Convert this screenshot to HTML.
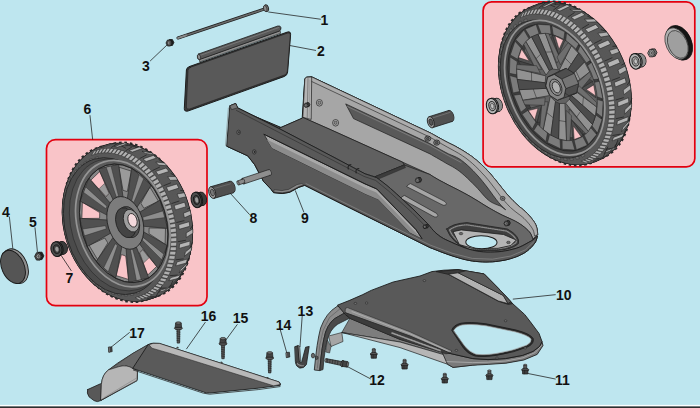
<!DOCTYPE html>
<html><head><meta charset="utf-8"><title>Parts diagram</title>
<style>
html,body{margin:0;padding:0;background:#bee6ef;}
body{width:700px;height:408px;overflow:hidden;}
svg{display:block;}
svg text{font-family:"Liberation Sans",sans-serif;font-weight:bold;font-size:14px;fill:#111;}
</style></head><body>
<svg width="700" height="408" viewBox="0 0 700 408">
<rect x="0" y="0" width="700" height="408" fill="#bee6ef"/>
<rect x="483.1" y="1.9" width="211.69999999999993" height="165.0" rx="8.5" ry="8.5" fill="#f9c4c8" stroke="#e3000f" stroke-width="1.7"/>
<rect x="46.5" y="139.6" width="160.5" height="166.1" rx="9" ry="9" fill="#f9c4c8" stroke="#e3000f" stroke-width="1.7"/>
<ellipse cx="559.4" cy="85.8" rx="54.0" ry="83.3" transform="rotate(-23 559.4 85.8)" fill="none" stroke="#2b2b2b" stroke-width="2.4" stroke-dasharray="2.6 2.6"/>
<ellipse cx="571.0" cy="80.9" rx="53.8" ry="83.0" transform="rotate(-23 571.0 80.9)" fill="none" stroke="#2b2b2b" stroke-width="2.4" stroke-dasharray="2.6 2.8"/>
<ellipse cx="578.7" cy="77.6" rx="48.2" ry="74.6" transform="rotate(-23 578.7 77.6)" fill="#2b2b2b" stroke="none" stroke-width="0"/>
<ellipse cx="577.2" cy="78.3" rx="49.7" ry="76.8" transform="rotate(-23 577.2 78.3)" fill="#2b2b2b" stroke="none" stroke-width="0"/>
<ellipse cx="575.6" cy="78.9" rx="50.9" ry="78.7" transform="rotate(-23 575.6 78.9)" fill="#2b2b2b" stroke="none" stroke-width="0"/>
<ellipse cx="574.1" cy="79.6" rx="51.9" ry="80.3" transform="rotate(-23 574.1 79.6)" fill="#2b2b2b" stroke="none" stroke-width="0"/>
<ellipse cx="572.6" cy="80.2" rx="52.8" ry="81.6" transform="rotate(-23 572.6 80.2)" fill="#2b2b2b" stroke="none" stroke-width="0"/>
<ellipse cx="571.0" cy="80.9" rx="53.4" ry="82.7" transform="rotate(-23 571.0 80.9)" fill="#2b2b2b" stroke="none" stroke-width="0"/>
<ellipse cx="569.5" cy="81.5" rx="53.9" ry="83.4" transform="rotate(-23 569.5 81.5)" fill="#2b2b2b" stroke="none" stroke-width="0"/>
<ellipse cx="568.0" cy="82.2" rx="54.3" ry="83.9" transform="rotate(-23 568.0 82.2)" fill="#2b2b2b" stroke="none" stroke-width="0"/>
<ellipse cx="566.4" cy="82.8" rx="54.4" ry="84.2" transform="rotate(-23 566.4 82.8)" fill="#2b2b2b" stroke="none" stroke-width="0"/>
<ellipse cx="564.9" cy="83.5" rx="54.5" ry="84.3" transform="rotate(-23 564.9 83.5)" fill="#2b2b2b" stroke="none" stroke-width="0"/>
<ellipse cx="563.4" cy="84.2" rx="54.4" ry="84.2" transform="rotate(-23 563.4 84.2)" fill="#2b2b2b" stroke="none" stroke-width="0"/>
<ellipse cx="561.8" cy="84.8" rx="54.3" ry="83.9" transform="rotate(-23 561.8 84.8)" fill="#2b2b2b" stroke="none" stroke-width="0"/>
<ellipse cx="560.3" cy="85.5" rx="53.9" ry="83.4" transform="rotate(-23 560.3 85.5)" fill="#2b2b2b" stroke="none" stroke-width="0"/>
<ellipse cx="558.8" cy="86.1" rx="53.4" ry="82.7" transform="rotate(-23 558.8 86.1)" fill="#2b2b2b" stroke="none" stroke-width="0"/>
<ellipse cx="557.2" cy="86.8" rx="52.8" ry="81.6" transform="rotate(-23 557.2 86.8)" fill="#2b2b2b" stroke="none" stroke-width="0"/>
<ellipse cx="555.7" cy="87.4" rx="51.9" ry="80.3" transform="rotate(-23 555.7 87.4)" fill="#2b2b2b" stroke="none" stroke-width="0"/>
<ellipse cx="554.2" cy="88.1" rx="50.9" ry="78.7" transform="rotate(-23 554.2 88.1)" fill="#2b2b2b" stroke="none" stroke-width="0"/>
<ellipse cx="552.6" cy="88.7" rx="49.7" ry="76.8" transform="rotate(-23 552.6 88.7)" fill="#2b2b2b" stroke="none" stroke-width="0"/>
<ellipse cx="551.1" cy="89.4" rx="48.2" ry="74.6" transform="rotate(-23 551.1 89.4)" fill="#2b2b2b" stroke="none" stroke-width="0"/>
<ellipse cx="578.7" cy="77.6" rx="47.3" ry="73.7" transform="rotate(-23 578.7 77.6)" fill="#585858" stroke="none" stroke-width="0"/>
<ellipse cx="577.2" cy="78.3" rx="48.8" ry="75.9" transform="rotate(-23 577.2 78.3)" fill="#585858" stroke="none" stroke-width="0"/>
<ellipse cx="575.6" cy="78.9" rx="50.0" ry="77.8" transform="rotate(-23 575.6 78.9)" fill="#585858" stroke="none" stroke-width="0"/>
<ellipse cx="574.1" cy="79.6" rx="51.0" ry="79.4" transform="rotate(-23 574.1 79.6)" fill="#585858" stroke="none" stroke-width="0"/>
<ellipse cx="572.6" cy="80.2" rx="51.9" ry="80.7" transform="rotate(-23 572.6 80.2)" fill="#585858" stroke="none" stroke-width="0"/>
<ellipse cx="571.0" cy="80.9" rx="52.5" ry="81.8" transform="rotate(-23 571.0 80.9)" fill="#585858" stroke="none" stroke-width="0"/>
<ellipse cx="569.5" cy="81.5" rx="53.0" ry="82.5" transform="rotate(-23 569.5 81.5)" fill="#585858" stroke="none" stroke-width="0"/>
<ellipse cx="568.0" cy="82.2" rx="53.4" ry="83.0" transform="rotate(-23 568.0 82.2)" fill="#585858" stroke="none" stroke-width="0"/>
<ellipse cx="566.4" cy="82.8" rx="53.5" ry="83.3" transform="rotate(-23 566.4 82.8)" fill="#585858" stroke="none" stroke-width="0"/>
<ellipse cx="564.9" cy="83.5" rx="53.6" ry="83.4" transform="rotate(-23 564.9 83.5)" fill="#585858" stroke="none" stroke-width="0"/>
<ellipse cx="563.4" cy="84.2" rx="53.5" ry="83.3" transform="rotate(-23 563.4 84.2)" fill="#585858" stroke="none" stroke-width="0"/>
<ellipse cx="561.8" cy="84.8" rx="53.4" ry="83.0" transform="rotate(-23 561.8 84.8)" fill="#585858" stroke="none" stroke-width="0"/>
<ellipse cx="560.3" cy="85.5" rx="53.0" ry="82.5" transform="rotate(-23 560.3 85.5)" fill="#585858" stroke="none" stroke-width="0"/>
<ellipse cx="558.8" cy="86.1" rx="52.5" ry="81.8" transform="rotate(-23 558.8 86.1)" fill="#585858" stroke="none" stroke-width="0"/>
<ellipse cx="557.2" cy="86.8" rx="51.9" ry="80.7" transform="rotate(-23 557.2 86.8)" fill="#585858" stroke="none" stroke-width="0"/>
<ellipse cx="555.7" cy="87.4" rx="51.0" ry="79.4" transform="rotate(-23 555.7 87.4)" fill="#585858" stroke="none" stroke-width="0"/>
<ellipse cx="554.2" cy="88.1" rx="50.0" ry="77.8" transform="rotate(-23 554.2 88.1)" fill="#585858" stroke="none" stroke-width="0"/>
<ellipse cx="552.6" cy="88.7" rx="48.8" ry="75.9" transform="rotate(-23 552.6 88.7)" fill="#585858" stroke="none" stroke-width="0"/>
<ellipse cx="551.1" cy="89.4" rx="47.3" ry="73.7" transform="rotate(-23 551.1 89.4)" fill="#585858" stroke="none" stroke-width="0"/>
<path d="M520.4,17.9 L522.7,16.7 L524.9,11.9 L522.5,13.1 Z" fill="#b0b0b0" stroke="#1e1e1e" stroke-width="0.45" stroke-linejoin="round" />
<path d="M523.3,16.5 L525.7,15.6 L528.0,10.7 L525.4,11.7 Z" fill="#b0b0b0" stroke="#1e1e1e" stroke-width="0.45" stroke-linejoin="round" />
<path d="M526.2,15.5 L528.8,14.8 L531.2,9.9 L528.6,10.6 Z" fill="#b0b0b0" stroke="#1e1e1e" stroke-width="0.45" stroke-linejoin="round" />
<path d="M528.4,9.0 L531.4,8.0 L541.7,3.1 L538.7,4.0 Z" fill="#b4b4b4" stroke="#1e1e1e" stroke-width="0.55" stroke-linejoin="round" />
<path d="M544.4,2.7 L554.9,6.8" fill="none" stroke="#1e1e1e" stroke-width="0.7" stroke-linecap="round" stroke-linejoin="round" />
<path d="M529.3,14.7 L531.9,14.3 L534.5,9.3 L531.8,9.7 Z" fill="#b0b0b0" stroke="#1e1e1e" stroke-width="0.45" stroke-linejoin="round" />
<path d="M532.5,14.2 L535.2,14.0 L537.9,9.0 L535.1,9.2 Z" fill="#b0b0b0" stroke="#1e1e1e" stroke-width="0.45" stroke-linejoin="round" />
<path d="M540.3,3.5 L543.6,3.1 L556.1,4.1 L553.1,4.4 Z" fill="#afafaf" stroke="#1e1e1e" stroke-width="0.55" stroke-linejoin="round" />
<path d="M539.0,8.0 L544.6,3.4" fill="none" stroke="#1e1e1e" stroke-width="0.7" stroke-linecap="round" stroke-linejoin="round" />
<path d="M535.8,14.0 L538.5,14.1 L541.4,9.1 L538.5,9.0 Z" fill="#b0b0b0" stroke="#1e1e1e" stroke-width="0.45" stroke-linejoin="round" />
<path d="M539.1,14.1 L541.9,14.4 L544.9,9.5 L542.0,9.1 Z" fill="#b0b0b0" stroke="#1e1e1e" stroke-width="0.45" stroke-linejoin="round" />
<path d="M541.8,6.9 L545.2,7.1 L555.6,2.1 L552.2,1.9 Z" fill="#b4b4b4" stroke="#1e1e1e" stroke-width="0.55" stroke-linejoin="round" />
<path d="M558.4,2.4 L567.6,6.5" fill="none" stroke="#1e1e1e" stroke-width="0.7" stroke-linecap="round" stroke-linejoin="round" />
<path d="M542.5,14.5 L545.3,15.0 L548.5,10.1 L545.6,9.5 Z" fill="#b0b0b0" stroke="#1e1e1e" stroke-width="0.45" stroke-linejoin="round" />
<path d="M545.9,15.2 L548.7,15.9 L552.1,11.1 L549.1,10.3 Z" fill="#b0b0b0" stroke="#1e1e1e" stroke-width="0.45" stroke-linejoin="round" />
<path d="M554.7,3.8 L558.2,4.6 L569.7,5.5 L566.4,4.7 Z" fill="#afafaf" stroke="#1e1e1e" stroke-width="0.55" stroke-linejoin="round" />
<path d="M553.4,10.1 L559.3,5.6" fill="none" stroke="#1e1e1e" stroke-width="0.7" stroke-linecap="round" stroke-linejoin="round" />
<path d="M549.4,16.1 L552.2,17.2 L555.7,12.3 L552.8,11.3 Z" fill="#b0b0b0" stroke="#1e1e1e" stroke-width="0.45" stroke-linejoin="round" />
<path d="M552.8,17.4 L555.7,18.6 L559.4,13.9 L556.4,12.6 Z" fill="#b0b0b0" stroke="#1e1e1e" stroke-width="0.45" stroke-linejoin="round" />
<path d="M556.4,9.7 L559.9,11.1 L570.4,6.1 L566.9,4.7 Z" fill="#b4b4b4" stroke="#1e1e1e" stroke-width="0.55" stroke-linejoin="round" />
<path d="M573.2,7.0 L580.9,10.7" fill="none" stroke="#1e1e1e" stroke-width="0.7" stroke-linecap="round" stroke-linejoin="round" />
<path d="M556.3,18.9 L559.2,20.4 L563.0,15.7 L560.0,14.2 Z" fill="#b0b0b0" stroke="#1e1e1e" stroke-width="0.45" stroke-linejoin="round" />
<path d="M559.8,20.8 L562.6,22.4 L566.6,17.9 L563.7,16.1 Z" fill="#b0b0b0" stroke="#1e1e1e" stroke-width="0.45" stroke-linejoin="round" />
<path d="M569.7,9.2 L573.2,11.1 L583.6,11.5 L580.4,9.7 Z" fill="#afafaf" stroke="#1e1e1e" stroke-width="0.55" stroke-linejoin="round" />
<path d="M568.0,17.1 L574.3,12.7" fill="none" stroke="#1e1e1e" stroke-width="0.7" stroke-linecap="round" stroke-linejoin="round" />
<path d="M563.2,22.8 L566.0,24.7 L570.2,20.3 L567.3,18.3 Z" fill="#b0b0b0" stroke="#1e1e1e" stroke-width="0.45" stroke-linejoin="round" />
<path d="M566.6,25.2 L569.4,27.3 L573.7,22.9 L570.8,20.7 Z" fill="#b0b0b0" stroke="#1e1e1e" stroke-width="0.45" stroke-linejoin="round" />
<path d="M571.1,17.3 L574.5,19.7 L585.1,14.9 L581.7,12.4 Z" fill="#b4b4b4" stroke="#1e1e1e" stroke-width="0.55" stroke-linejoin="round" />
<path d="M587.7,16.3 L594.1,19.1" fill="none" stroke="#1e1e1e" stroke-width="0.7" stroke-linecap="round" stroke-linejoin="round" />
<path d="M570.0,27.8 L572.7,30.1 L577.2,25.8 L574.3,23.4 Z" fill="#b0b0b0" stroke="#1e1e1e" stroke-width="0.45" stroke-linejoin="round" />
<path d="M573.3,30.6 L575.9,33.1 L580.5,29.0 L577.8,26.4 Z" fill="#b0b0b0" stroke="#1e1e1e" stroke-width="0.45" stroke-linejoin="round" />
<path d="M584.4,19.2 L587.7,22.2 L597.1,21.8 L594.1,19.0 Z" fill="#afafaf" stroke="#1e1e1e" stroke-width="0.55" stroke-linejoin="round" />
<path d="M582.0,28.4 L588.7,24.3" fill="none" stroke="#1e1e1e" stroke-width="0.7" stroke-linecap="round" stroke-linejoin="round" />
<path d="M576.5,33.6 L579.0,36.3 L583.8,32.4 L581.1,29.6 Z" fill="#b0b0b0" stroke="#1e1e1e" stroke-width="0.45" stroke-linejoin="round" />
<path d="M579.6,36.9 L582.1,39.7 L587.0,36.0 L584.4,33.0 Z" fill="#b0b0b0" stroke="#1e1e1e" stroke-width="0.45" stroke-linejoin="round" />
<path d="M585.1,29.2 L588.2,32.6 L598.8,27.8 L595.7,24.4 Z" fill="#b4b4b4" stroke="#1e1e1e" stroke-width="0.55" stroke-linejoin="round" />
<path d="M601.2,29.7 L606.3,31.2" fill="none" stroke="#1e1e1e" stroke-width="0.7" stroke-linecap="round" stroke-linejoin="round" />
<path d="M582.6,40.4 L585.0,43.4 L590.0,39.8 L587.5,36.6 Z" fill="#b0b0b0" stroke="#1e1e1e" stroke-width="0.45" stroke-linejoin="round" />
<path d="M585.5,44.0 L587.8,47.2 L593.0,43.7 L590.6,40.5 Z" fill="#b0b0b0" stroke="#1e1e1e" stroke-width="0.45" stroke-linejoin="round" />
<path d="M597.9,33.3 L600.8,37.1 L609.3,35.6 L606.6,32.1 Z" fill="#afafaf" stroke="#1e1e1e" stroke-width="0.55" stroke-linejoin="round" />
<path d="M594.5,43.3 L601.5,39.7" fill="none" stroke="#1e1e1e" stroke-width="0.7" stroke-linecap="round" stroke-linejoin="round" />
<path d="M588.3,47.9 L590.4,51.1 L595.8,47.9 L593.5,44.5 Z" fill="#b0b0b0" stroke="#1e1e1e" stroke-width="0.45" stroke-linejoin="round" />
<path d="M590.9,51.9 L593.0,55.3 L598.4,52.2 L596.2,48.7 Z" fill="#b0b0b0" stroke="#1e1e1e" stroke-width="0.45" stroke-linejoin="round" />
<path d="M597.4,44.7 L600.0,48.8 L610.7,44.1 L608.2,40.0 Z" fill="#b4b4b4" stroke="#1e1e1e" stroke-width="0.55" stroke-linejoin="round" />
<path d="M612.8,46.3 L616.7,46.2" fill="none" stroke="#1e1e1e" stroke-width="0.7" stroke-linecap="round" stroke-linejoin="round" />
<path d="M593.4,56.0 L595.3,59.5 L600.8,56.6 L598.8,53.0 Z" fill="#b0b0b0" stroke="#1e1e1e" stroke-width="0.45" stroke-linejoin="round" />
<path d="M595.7,60.3 L597.5,63.9 L603.1,61.2 L601.3,57.5 Z" fill="#b0b0b0" stroke="#1e1e1e" stroke-width="0.45" stroke-linejoin="round" />
<path d="M609.3,50.5 L611.6,54.9 L619.4,52.2 L617.2,48.1 Z" fill="#afafaf" stroke="#1e1e1e" stroke-width="0.55" stroke-linejoin="round" />
<path d="M604.7,61.0 L612.0,57.8" fill="none" stroke="#1e1e1e" stroke-width="0.7" stroke-linecap="round" stroke-linejoin="round" />
<path d="M597.9,64.7 L599.5,68.3 L605.3,65.9 L603.5,62.0 Z" fill="#b0b0b0" stroke="#1e1e1e" stroke-width="0.45" stroke-linejoin="round" />
<path d="M599.9,69.1 L601.4,72.9 L607.2,70.6 L605.6,66.7 Z" fill="#b0b0b0" stroke="#1e1e1e" stroke-width="0.45" stroke-linejoin="round" />
<path d="M607.3,62.8 L609.3,67.3 L620.1,62.8 L618.1,58.2 Z" fill="#b4b4b4" stroke="#1e1e1e" stroke-width="0.55" stroke-linejoin="round" />
<path d="M621.7,65.1 L624.8,63.2" fill="none" stroke="#1e1e1e" stroke-width="0.7" stroke-linecap="round" stroke-linejoin="round" />
<path d="M601.7,73.7 L603.0,77.5 L608.9,75.4 L607.5,71.5 Z" fill="#b0b0b0" stroke="#1e1e1e" stroke-width="0.45" stroke-linejoin="round" />
<path d="M603.3,78.3 L604.5,82.1 L610.4,80.3 L609.2,76.3 Z" fill="#b0b0b0" stroke="#1e1e1e" stroke-width="0.45" stroke-linejoin="round" />
<path d="M617.9,69.8 L619.5,74.5 L626.7,70.4 L625.2,66.1 Z" fill="#afafaf" stroke="#1e1e1e" stroke-width="0.55" stroke-linejoin="round" />
<path d="M612.0,80.3 L619.4,77.5" fill="none" stroke="#1e1e1e" stroke-width="0.7" stroke-linecap="round" stroke-linejoin="round" />
<path d="M604.7,82.9 L605.7,86.8 L611.7,85.2 L610.7,81.2 Z" fill="#b0b0b0" stroke="#1e1e1e" stroke-width="0.45" stroke-linejoin="round" />
<path d="M605.9,87.6 L606.8,91.4 L612.8,90.1 L611.9,86.0 Z" fill="#b0b0b0" stroke="#1e1e1e" stroke-width="0.45" stroke-linejoin="round" />
<path d="M614.2,82.4 L615.4,87.0 L626.2,82.6 L625.1,77.9 Z" fill="#b4b4b4" stroke="#1e1e1e" stroke-width="0.55" stroke-linejoin="round" />
<path d="M627.3,84.9 L629.9,81.1" fill="none" stroke="#1e1e1e" stroke-width="0.7" stroke-linecap="round" stroke-linejoin="round" />
<path d="M606.9,92.3 L607.6,96.1 L613.7,94.9 L613.0,90.9 Z" fill="#b0b0b0" stroke="#1e1e1e" stroke-width="0.45" stroke-linejoin="round" />
<path d="M607.7,96.9 L608.2,100.7 L614.3,99.8 L613.8,95.8 Z" fill="#b0b0b0" stroke="#1e1e1e" stroke-width="0.45" stroke-linejoin="round" />
<path d="M623.2,90.0 L623.9,94.7 L630.8,89.2 L630.2,84.8 Z" fill="#afafaf" stroke="#1e1e1e" stroke-width="0.55" stroke-linejoin="round" />
<path d="M615.9,99.9 L623.4,97.7" fill="none" stroke="#1e1e1e" stroke-width="0.7" stroke-linecap="round" stroke-linejoin="round" />
<path d="M608.3,101.6 L608.6,105.3 L614.8,104.6 L614.4,100.6 Z" fill="#b0b0b0" stroke="#1e1e1e" stroke-width="0.45" stroke-linejoin="round" />
<path d="M608.7,106.1 L608.8,109.8 L615.0,109.3 L614.8,105.4 Z" fill="#b0b0b0" stroke="#1e1e1e" stroke-width="0.45" stroke-linejoin="round" />
<path d="M617.7,102.1 L618.0,106.7 L628.8,102.4 L628.5,97.8 Z" fill="#b4b4b4" stroke="#1e1e1e" stroke-width="0.55" stroke-linejoin="round" />
<path d="M629.4,104.4 L631.8,98.8" fill="none" stroke="#1e1e1e" stroke-width="0.7" stroke-linecap="round" stroke-linejoin="round" />
<path d="M608.8,110.6 L608.8,114.2 L614.9,113.9 L615.0,110.1 Z" fill="#b0b0b0" stroke="#1e1e1e" stroke-width="0.45" stroke-linejoin="round" />
<path d="M608.8,115.0 L608.5,118.6 L614.7,118.4 L614.9,114.7 Z" fill="#b0b0b0" stroke="#1e1e1e" stroke-width="0.45" stroke-linejoin="round" />
<path d="M624.8,109.7 L624.7,114.1 L631.5,107.3 L631.7,103.2 Z" fill="#afafaf" stroke="#1e1e1e" stroke-width="0.55" stroke-linejoin="round" />
<path d="M616.1,118.7 L623.6,117.0" fill="none" stroke="#1e1e1e" stroke-width="0.7" stroke-linecap="round" stroke-linejoin="round" />
<path d="M608.5,119.3 L608.1,122.8 L614.2,122.8 L614.6,119.2 Z" fill="#b0b0b0" stroke="#1e1e1e" stroke-width="0.45" stroke-linejoin="round" />
<path d="M608.0,123.5 L607.4,126.9 L613.5,127.1 L614.1,123.6 Z" fill="#b0b0b0" stroke="#1e1e1e" stroke-width="0.45" stroke-linejoin="round" />
<path d="M617.4,120.9 L616.8,125.0 L627.7,120.8 L628.3,116.7 Z" fill="#b4b4b4" stroke="#1e1e1e" stroke-width="0.55" stroke-linejoin="round" />
<path d="M627.8,122.6 L630.3,115.2" fill="none" stroke="#1e1e1e" stroke-width="0.7" stroke-linecap="round" stroke-linejoin="round" />
<path d="M607.2,127.6 L606.5,130.8 L612.5,131.2 L613.3,127.9 Z" fill="#b0b0b0" stroke="#1e1e1e" stroke-width="0.45" stroke-linejoin="round" />
<path d="M606.3,131.5 L605.4,134.5 L611.4,135.1 L612.3,131.9 Z" fill="#b0b0b0" stroke="#1e1e1e" stroke-width="0.45" stroke-linejoin="round" />
<path d="M622.7,127.8 L621.7,131.7 L628.7,123.6 L629.7,120.0 Z" fill="#afafaf" stroke="#1e1e1e" stroke-width="0.55" stroke-linejoin="round" />
<path d="M612.7,135.5 L620.1,134.2" fill="none" stroke="#1e1e1e" stroke-width="0.7" stroke-linecap="round" stroke-linejoin="round" />
<path d="M605.2,135.2 L604.1,138.1 L610.0,138.9 L611.1,135.8 Z" fill="#b0b0b0" stroke="#1e1e1e" stroke-width="0.45" stroke-linejoin="round" />
<path d="M603.8,138.7 L602.6,141.5 L608.4,142.4 L609.7,139.5 Z" fill="#b0b0b0" stroke="#1e1e1e" stroke-width="0.45" stroke-linejoin="round" />
<path d="M613.5,137.4 L612.1,140.9 L622.9,136.8 L624.4,133.3 Z" fill="#b4b4b4" stroke="#1e1e1e" stroke-width="0.55" stroke-linejoin="round" />
<path d="M622.6,138.1 L625.6,129.2" fill="none" stroke="#1e1e1e" stroke-width="0.7" stroke-linecap="round" stroke-linejoin="round" />
<path d="M602.3,142.1 L600.9,144.6 L606.6,145.7 L608.1,143.0 Z" fill="#b0b0b0" stroke="#1e1e1e" stroke-width="0.45" stroke-linejoin="round" />
<path d="M600.5,145.2 L599.0,147.6 L604.7,148.8 L606.3,146.3 Z" fill="#b0b0b0" stroke="#1e1e1e" stroke-width="0.45" stroke-linejoin="round" />
<path d="M616.9,143.1 L615.1,146.2 L622.6,137.1 L624.3,134.3 Z" fill="#afafaf" stroke="#1e1e1e" stroke-width="0.55" stroke-linejoin="round" />
<path d="M605.8,149.2 L613.1,148.2" fill="none" stroke="#1e1e1e" stroke-width="0.7" stroke-linecap="round" stroke-linejoin="round" />
<path d="M598.6,148.1 L596.9,150.3 L602.5,151.6 L604.3,149.3 Z" fill="#b0b0b0" stroke="#1e1e1e" stroke-width="0.45" stroke-linejoin="round" />
<path d="M596.5,150.7 L594.6,152.7 L600.1,154.2 L602.1,152.1 Z" fill="#b0b0b0" stroke="#1e1e1e" stroke-width="0.45" stroke-linejoin="round" />
<path d="M606.2,150.8 L604.0,153.3 L614.8,149.3 L617.0,146.7 Z" fill="#b4b4b4" stroke="#1e1e1e" stroke-width="0.55" stroke-linejoin="round" />
<path d="M614.1,150.0 L617.9,140.0" fill="none" stroke="#1e1e1e" stroke-width="0.7" stroke-linecap="round" stroke-linejoin="round" />
<path d="M594.2,153.2 L592.2,155.0 L597.6,156.5 L599.7,154.6 Z" fill="#b0b0b0" stroke="#1e1e1e" stroke-width="0.45" stroke-linejoin="round" />
<path d="M591.8,155.3 L589.7,156.9 L595.0,158.6 L597.2,156.9 Z" fill="#b0b0b0" stroke="#1e1e1e" stroke-width="0.45" stroke-linejoin="round" />
<path d="M607.9,154.7 L605.4,156.8 L613.6,147.0 L615.9,145.0 Z" fill="#afafaf" stroke="#1e1e1e" stroke-width="0.55" stroke-linejoin="round" />
<path d="M596.0,158.9 L603.0,158.2" fill="none" stroke="#1e1e1e" stroke-width="0.7" stroke-linecap="round" stroke-linejoin="round" />
<path d="M589.2,157.2 L587.0,158.6 L592.1,160.3 L594.5,158.9 Z" fill="#b0b0b0" stroke="#1e1e1e" stroke-width="0.45" stroke-linejoin="round" />
<path d="M586.5,158.9 L584.1,160.0 L589.2,161.8 L591.6,160.6 Z" fill="#b0b0b0" stroke="#1e1e1e" stroke-width="0.45" stroke-linejoin="round" />
<path d="M595.9,160.0 L593.1,161.5 L603.8,157.6 L606.6,156.0 Z" fill="#b4b4b4" stroke="#1e1e1e" stroke-width="0.55" stroke-linejoin="round" />
<path d="M602.9,157.6 L607.8,146.9" fill="none" stroke="#1e1e1e" stroke-width="0.7" stroke-linecap="round" stroke-linejoin="round" />
<path d="M583.6,160.2 L581.2,161.1 L586.1,162.9 L588.6,162.0 Z" fill="#b0b0b0" stroke="#1e1e1e" stroke-width="0.45" stroke-linejoin="round" />
<path d="M585.0,155.8 L582.2,157.3 L579.9,153.7 L582.5,152.3 Z" fill="#6c6c6c" stroke="#2b2b2b" stroke-width="0.4" stroke-linejoin="round" />
<path d="M579.5,158.5 L576.5,159.4 L574.5,155.7 L577.4,154.8 Z" fill="#6c6c6c" stroke="#2b2b2b" stroke-width="0.4" stroke-linejoin="round" />
<path d="M573.6,160.0 L570.4,160.4 L568.8,156.6 L571.8,156.3 Z" fill="#6c6c6c" stroke="#2b2b2b" stroke-width="0.4" stroke-linejoin="round" />
<path d="M567.4,160.5 L564.0,160.2 L562.8,156.5 L566.0,156.7 Z" fill="#6c6c6c" stroke="#2b2b2b" stroke-width="0.4" stroke-linejoin="round" />
<path d="M560.9,159.8 L557.4,159.0 L556.6,155.3 L559.8,156.0 Z" fill="#6c6c6c" stroke="#2b2b2b" stroke-width="0.4" stroke-linejoin="round" />
<path d="M554.3,158.0 L550.8,156.6 L550.3,153.0 L553.6,154.3 Z" fill="#6c6c6c" stroke="#2b2b2b" stroke-width="0.4" stroke-linejoin="round" />
<path d="M547.6,155.1 L544.1,153.1 L544.0,149.8 L547.3,151.6 Z" fill="#6c6c6c" stroke="#2b2b2b" stroke-width="0.4" stroke-linejoin="round" />
<path d="M541.0,151.2 L537.6,148.7 L537.8,145.6 L541.1,147.9 Z" fill="#6c6c6c" stroke="#2b2b2b" stroke-width="0.4" stroke-linejoin="round" />
<path d="M534.6,146.3 L531.3,143.3 L531.9,140.5 L535.0,143.3 Z" fill="#6c6c6c" stroke="#2b2b2b" stroke-width="0.4" stroke-linejoin="round" />
<path d="M528.4,140.5 L525.3,137.1 L526.2,134.6 L529.1,137.8 Z" fill="#6c6c6c" stroke="#2b2b2b" stroke-width="0.4" stroke-linejoin="round" />
<path d="M522.6,133.8 L519.7,130.1 L520.9,128.0 L523.7,131.6 Z" fill="#6c6c6c" stroke="#2b2b2b" stroke-width="0.4" stroke-linejoin="round" />
<path d="M517.2,126.5 L514.6,122.4 L516.2,120.8 L518.6,124.7 Z" fill="#6c6c6c" stroke="#2b2b2b" stroke-width="0.4" stroke-linejoin="round" />
<path d="M512.4,118.6 L510.2,114.2 L511.9,113.1 L514.1,117.2 Z" fill="#6c6c6c" stroke="#2b2b2b" stroke-width="0.4" stroke-linejoin="round" />
<path d="M508.3,110.2 L506.3,105.7 L508.3,105.0 L510.1,109.3 Z" fill="#6c6c6c" stroke="#2b2b2b" stroke-width="0.4" stroke-linejoin="round" />
<path d="M504.8,101.5 L503.2,96.8 L505.4,96.6 L506.8,101.1 Z" fill="#6c6c6c" stroke="#2b2b2b" stroke-width="0.4" stroke-linejoin="round" />
<path d="M502.0,92.6 L500.9,87.9 L503.2,88.2 L504.2,92.7 Z" fill="#6c6c6c" stroke="#2b2b2b" stroke-width="0.4" stroke-linejoin="round" />
<path d="M500.0,83.7 L499.3,79.0 L501.7,79.8 L502.4,84.2 Z" fill="#6c6c6c" stroke="#2b2b2b" stroke-width="0.4" stroke-linejoin="round" />
<path d="M498.9,74.8 L498.6,70.2 L501.0,71.5 L501.3,75.8 Z" fill="#6c6c6c" stroke="#2b2b2b" stroke-width="0.4" stroke-linejoin="round" />
<path d="M498.5,66.1 L498.7,61.7 L501.1,63.5 L501.0,67.7 Z" fill="#6c6c6c" stroke="#2b2b2b" stroke-width="0.4" stroke-linejoin="round" />
<path d="M499.0,57.9 L499.6,53.7 L502.0,55.9 L501.4,59.9 Z" fill="#6c6c6c" stroke="#2b2b2b" stroke-width="0.4" stroke-linejoin="round" />
<path d="M500.4,50.1 L501.4,46.2 L503.7,48.9 L502.7,52.5 Z" fill="#6c6c6c" stroke="#2b2b2b" stroke-width="0.4" stroke-linejoin="round" />
<path d="M502.5,42.9 L504.0,39.4 L506.1,42.4 L504.7,45.7 Z" fill="#6c6c6c" stroke="#2b2b2b" stroke-width="0.4" stroke-linejoin="round" />
<path d="M505.4,36.5 L507.3,33.4 L509.2,36.7 L507.5,39.6 Z" fill="#6c6c6c" stroke="#2b2b2b" stroke-width="0.4" stroke-linejoin="round" />
<path d="M509.1,30.8 L511.3,28.2 L513.0,31.9 L510.9,34.3 Z" fill="#6c6c6c" stroke="#2b2b2b" stroke-width="0.4" stroke-linejoin="round" />
<path d="M513.4,26.1 L515.9,24.1 L517.4,28.0 L515.0,29.9 Z" fill="#6c6c6c" stroke="#2b2b2b" stroke-width="0.4" stroke-linejoin="round" />
<path d="M518.3,22.4 L521.1,20.9 L522.3,25.0 L519.6,26.4 Z" fill="#6c6c6c" stroke="#2b2b2b" stroke-width="0.4" stroke-linejoin="round" />
<path d="M523.8,19.8 L526.8,18.8 L527.7,23.0 L524.8,23.9 Z" fill="#6c6c6c" stroke="#2b2b2b" stroke-width="0.4" stroke-linejoin="round" />
<ellipse cx="551.6" cy="89.1" rx="46.7" ry="72.4" transform="rotate(-23 551.6 89.1)" fill="#4b4b4b" stroke="#262626" stroke-width="0.8"/>
<ellipse cx="554.7" cy="87.8" rx="45.4" ry="70.4" transform="rotate(-23 554.7 87.8)" fill="#444" stroke="#949494" stroke-width="1.8"/>
<ellipse cx="555.2" cy="87.6" rx="43.0" ry="66.6" transform="rotate(-23 555.2 87.6)" fill="#3e3e3e" stroke="#222" stroke-width="0.7"/>
<path d="M591.5,62.2 L598.7,79.1 L592.6,79.7 L586.9,66.2 Z" fill="#7b7b7b" stroke="#222" stroke-width="0.5" stroke-linejoin="round" />
<path d="M599.4,81.3 L602.9,98.9 L596.3,96.5 L593.5,82.5 Z" fill="#7b7b7b" stroke="#222" stroke-width="0.5" stroke-linejoin="round" />
<path d="M603.1,101.1 L602.4,117.5 L596.0,112.4 L596.5,99.3 Z" fill="#7b7b7b" stroke="#222" stroke-width="0.5" stroke-linejoin="round" />
<path d="M602.1,119.4 L597.5,133.1 L591.9,125.8 L595.6,114.8 Z" fill="#7b7b7b" stroke="#222" stroke-width="0.5" stroke-linejoin="round" />
<path d="M596.7,134.6 L588.5,144.3 L584.3,135.4 L590.9,127.7 Z" fill="#7b7b7b" stroke="#222" stroke-width="0.5" stroke-linejoin="round" />
<path d="M587.3,145.2 L576.4,149.8 L574.1,140.3 L582.8,136.6 Z" fill="#7b7b7b" stroke="#222" stroke-width="0.5" stroke-linejoin="round" />
<path d="M574.9,150.1 L562.2,149.2 L562.1,139.9 L572.2,140.6 Z" fill="#7b7b7b" stroke="#222" stroke-width="0.5" stroke-linejoin="round" />
<path d="M560.6,148.8 L547.5,142.6 L549.6,134.4 L560.0,139.3 Z" fill="#7b7b7b" stroke="#222" stroke-width="0.5" stroke-linejoin="round" />
<path d="M545.9,141.5 L533.7,130.5 L537.7,124.2 L547.5,133.0 Z" fill="#7b7b7b" stroke="#222" stroke-width="0.5" stroke-linejoin="round" />
<path d="M532.3,128.9 L522.0,114.2 L527.8,110.4 L535.9,122.1 Z" fill="#7b7b7b" stroke="#222" stroke-width="0.5" stroke-linejoin="round" />
<path d="M520.9,112.2 L513.7,95.2 L520.6,94.3 L526.3,107.9 Z" fill="#7b7b7b" stroke="#222" stroke-width="0.5" stroke-linejoin="round" />
<path d="M513.1,93.0 L509.6,75.5 L517.0,77.5 L519.7,91.5 Z" fill="#7b7b7b" stroke="#222" stroke-width="0.5" stroke-linejoin="round" />
<path d="M509.4,73.3 L510.0,56.9 L517.2,61.6 L516.7,74.8 Z" fill="#7b7b7b" stroke="#222" stroke-width="0.5" stroke-linejoin="round" />
<path d="M510.3,55.0 L515.0,41.2 L521.3,48.2 L517.6,59.2 Z" fill="#7b7b7b" stroke="#222" stroke-width="0.5" stroke-linejoin="round" />
<path d="M515.8,39.7 L523.9,30.1 L528.9,38.6 L522.4,46.3 Z" fill="#7b7b7b" stroke="#222" stroke-width="0.5" stroke-linejoin="round" />
<path d="M525.2,29.2 L536.1,24.5 L539.2,33.8 L530.4,37.5 Z" fill="#7b7b7b" stroke="#222" stroke-width="0.5" stroke-linejoin="round" />
<path d="M537.6,24.3 L550.2,25.1 L551.1,34.1 L541.1,33.5 Z" fill="#7b7b7b" stroke="#222" stroke-width="0.5" stroke-linejoin="round" />
<path d="M551.8,25.6 L564.9,31.8 L563.7,39.6 L553.2,34.7 Z" fill="#7b7b7b" stroke="#222" stroke-width="0.5" stroke-linejoin="round" />
<path d="M566.5,32.9 L578.8,43.9 L575.5,49.8 L565.7,41.0 Z" fill="#7b7b7b" stroke="#222" stroke-width="0.5" stroke-linejoin="round" />
<path d="M580.2,45.5 L590.4,60.2 L585.5,63.6 L577.3,51.9 Z" fill="#7b7b7b" stroke="#222" stroke-width="0.5" stroke-linejoin="round" />
<ellipse cx="558.8" cy="86.1" rx="35.0" ry="54.2" transform="rotate(-23 558.8 86.1)" fill="#626262" stroke="#222" stroke-width="0.5"/>
<path d="M558.6,55.2 L552.3,35.0 L564.6,40.9 Z" fill="#505050" stroke="#222" stroke-width="0.5" stroke-linejoin="round" />
<path d="M559.1,49.3 L555.0,35.9 L563.3,40.0 Z" fill="#f9c4c8" stroke="#222" stroke-width="0.5" stroke-linejoin="round" />
<path d="M558.6,55.2 L552.3,35.0 L550.0,40.2 L556.4,59.3 Z" fill="#454545" stroke="#222" stroke-width="0.4" stroke-linejoin="round" />
<path d="M581.6,88.2 L592.7,81.2 L595.9,97.8 Z" fill="#505050" stroke="#222" stroke-width="0.5" stroke-linejoin="round" />
<path d="M586.3,89.4 L593.7,84.9 L595.7,95.9 Z" fill="#f9c4c8" stroke="#222" stroke-width="0.5" stroke-linejoin="round" />
<path d="M581.6,88.2 L592.7,81.2 L587.4,77.7 L577.2,84.9 Z" fill="#454545" stroke="#222" stroke-width="0.4" stroke-linejoin="round" />
<path d="M571.2,119.1 L583.3,135.4 L572.9,139.8 Z" fill="#505050" stroke="#222" stroke-width="0.5" stroke-linejoin="round" />
<path d="M573.2,125.8 L581.2,136.8 L574.2,139.5 Z" fill="#f9c4c8" stroke="#222" stroke-width="0.5" stroke-linejoin="round" />
<path d="M571.2,119.1 L583.3,135.4 L582.7,127.9 L571.0,112.9 Z" fill="#454545" stroke="#222" stroke-width="0.4" stroke-linejoin="round" />
<path d="M541.8,105.1 L537.1,122.7 L527.4,108.9 Z" fill="#505050" stroke="#222" stroke-width="0.5" stroke-linejoin="round" />
<path d="M538.0,108.3 L534.7,119.9 L528.4,110.5 Z" fill="#f9c4c8" stroke="#222" stroke-width="0.5" stroke-linejoin="round" />
<path d="M541.8,105.1 L537.1,122.7 L542.3,121.5 L546.3,104.4 Z" fill="#454545" stroke="#222" stroke-width="0.4" stroke-linejoin="round" />
<path d="M534.0,65.7 L517.9,60.7 L522.3,47.8 Z" fill="#505050" stroke="#222" stroke-width="0.5" stroke-linejoin="round" />
<path d="M529.3,61.0 L518.6,57.6 L521.6,49.0 Z" fill="#f9c4c8" stroke="#222" stroke-width="0.5" stroke-linejoin="round" />
<path d="M534.0,65.7 L517.9,60.7 L522.1,67.3 L537.3,71.3 Z" fill="#454545" stroke="#222" stroke-width="0.4" stroke-linejoin="round" />
<path d="M546.1,75.0 L525.8,41.6 L531.5,36.8 L549.3,70.5 Z" fill="#919191" stroke="#222" stroke-width="0.6" stroke-linejoin="round" />
<path d="M541.7,69.5 L525.8,41.6 L523.7,44.3 L535.5,69.0 Z" fill="#6e6e6e" stroke="#222" stroke-width="0.45" stroke-linejoin="round" />
<path d="M540.5,54.4 L536.2,58.5" fill="none" stroke="#222" stroke-width="0.5" stroke-linecap="round" stroke-linejoin="round" />
<path d="M558.3,69.8 L545.3,33.3 L537.9,34.1 L552.7,69.0 Z" fill="#919191" stroke="#222" stroke-width="0.6" stroke-linejoin="round" />
<path d="M556.8,63.1 L545.3,33.3 L548.7,33.6 L560.2,58.5 Z" fill="#6e6e6e" stroke="#222" stroke-width="0.45" stroke-linejoin="round" />
<path d="M545.8,52.1 L551.8,51.9" fill="none" stroke="#222" stroke-width="0.5" stroke-linecap="round" stroke-linejoin="round" />
<path d="M549.3,70.5 L531.5,36.8 L537.9,34.1 L552.7,69.0 Z" fill="#4c4c4c" stroke="#222" stroke-width="0.5" stroke-linejoin="round" />
<path d="M559.2,70.3 L571.4,45.7 L578.5,53.3 L564.5,74.6 Z" fill="#919191" stroke="#222" stroke-width="0.6" stroke-linejoin="round" />
<path d="M560.5,64.9 L571.4,45.7 L568.1,42.8 L557.0,57.0 Z" fill="#6e6e6e" stroke="#222" stroke-width="0.45" stroke-linejoin="round" />
<path d="M571.0,64.1 L565.3,58.3" fill="none" stroke="#222" stroke-width="0.5" stroke-linecap="round" stroke-linejoin="round" />
<path d="M570.5,86.6 L589.7,71.9 L584.5,61.9 L567.7,79.2 Z" fill="#919191" stroke="#222" stroke-width="0.6" stroke-linejoin="round" />
<path d="M574.6,85.1 L589.7,71.9 L591.5,76.5 L580.1,90.2 Z" fill="#6e6e6e" stroke="#222" stroke-width="0.45" stroke-linejoin="round" />
<path d="M576.0,71.2 L579.8,79.2" fill="none" stroke="#222" stroke-width="0.5" stroke-linecap="round" stroke-linejoin="round" />
<path d="M564.5,74.6 L578.5,53.3 L584.5,61.9 L567.7,79.2 Z" fill="#4c4c4c" stroke="#222" stroke-width="0.5" stroke-linejoin="round" />
<path d="M570.8,87.8 L596.6,106.9 L595.2,116.4 L570.8,95.0 Z" fill="#919191" stroke="#222" stroke-width="0.6" stroke-linejoin="round" />
<path d="M575.6,90.2 L596.6,106.9 L596.6,102.5 L579.3,85.9 Z" fill="#6e6e6e" stroke="#222" stroke-width="0.45" stroke-linejoin="round" />
<path d="M582.7,105.0 L583.4,97.3" fill="none" stroke="#222" stroke-width="0.5" stroke-linecap="round" stroke-linejoin="round" />
<path d="M565.6,103.1 L588.3,131.4 L592.5,124.5 L569.4,99.3 Z" fill="#919191" stroke="#222" stroke-width="0.6" stroke-linejoin="round" />
<path d="M569.3,109.0 L588.3,131.4 L586.1,133.9 L568.8,116.9 Z" fill="#6e6e6e" stroke="#222" stroke-width="0.45" stroke-linejoin="round" />
<path d="M580.4,111.7 L576.8,116.8" fill="none" stroke="#222" stroke-width="0.5" stroke-linecap="round" stroke-linejoin="round" />
<path d="M570.8,95.0 L595.2,116.4 L592.5,124.5 L569.4,99.3 Z" fill="#4c4c4c" stroke="#222" stroke-width="0.5" stroke-linejoin="round" />
<path d="M564.9,103.4 L566.5,140.6 L558.6,138.9 L559.5,103.5 Z" fill="#919191" stroke="#222" stroke-width="0.6" stroke-linejoin="round" />
<path d="M566.1,110.4 L566.5,140.6 L569.9,140.7 L571.5,115.8 Z" fill="#6e6e6e" stroke="#222" stroke-width="0.45" stroke-linejoin="round" />
<path d="M559.4,120.6 L565.6,121.6" fill="none" stroke="#222" stroke-width="0.5" stroke-linecap="round" stroke-linejoin="round" />
<path d="M550.3,96.5 L543.2,129.5 L550.9,135.2 L555.5,101.6 Z" fill="#919191" stroke="#222" stroke-width="0.6" stroke-linejoin="round" />
<path d="M548.1,101.8 L543.2,129.5 L539.9,126.5 L542.0,101.7 Z" fill="#6e6e6e" stroke="#222" stroke-width="0.45" stroke-linejoin="round" />
<path d="M553.0,117.6 L547.0,112.8" fill="none" stroke="#222" stroke-width="0.5" stroke-linecap="round" stroke-linejoin="round" />
<path d="M559.5,103.5 L558.6,138.9 L550.9,135.2 L555.5,101.6 Z" fill="#4c4c4c" stroke="#222" stroke-width="0.5" stroke-linejoin="round" />
<path d="M549.6,95.5 L522.8,100.3 L519.2,89.7 L546.3,88.3 Z" fill="#919191" stroke="#222" stroke-width="0.6" stroke-linejoin="round" />
<path d="M545.2,97.6 L522.8,100.3 L524.8,104.8 L544.5,105.3 Z" fill="#6e6e6e" stroke="#222" stroke-width="0.45" stroke-linejoin="round" />
<path d="M533.3,89.3 L536.4,97.7" fill="none" stroke="#222" stroke-width="0.5" stroke-linecap="round" stroke-linejoin="round" />
<path d="M545.8,75.9 L516.6,68.9 L517.2,79.4 L545.2,82.8 Z" fill="#919191" stroke="#222" stroke-width="0.6" stroke-linejoin="round" />
<path d="M540.4,73.4 L516.6,68.9 L516.9,64.6 L536.6,65.7 Z" fill="#6e6e6e" stroke="#222" stroke-width="0.45" stroke-linejoin="round" />
<path d="M531.6,80.8 L531.5,72.7" fill="none" stroke="#222" stroke-width="0.5" stroke-linecap="round" stroke-linejoin="round" />
<path d="M546.3,88.3 L519.2,89.7 L517.2,79.4 L545.2,82.8 Z" fill="#4c4c4c" stroke="#222" stroke-width="0.5" stroke-linejoin="round" />
<path d="M578.5,83.7 L576.6,93.0 L569.5,96.0 L561.4,91.0 L557.0,80.7 L559.0,71.4 L566.1,68.4 L574.2,73.4 Z" fill="#555" stroke="#222" stroke-width="0.7" stroke-linejoin="round" />
<path d="M565.8,88.6 L564.0,97.4 L576.6,93.0 L578.5,83.7 Z" fill="#4e4e4e" stroke="#222" stroke-width="0.5" stroke-linejoin="round" />
<path d="M564.0,97.4 L557.4,100.2 L569.5,96.0 L576.6,93.0 Z" fill="#757575" stroke="#222" stroke-width="0.5" stroke-linejoin="round" />
<path d="M557.4,100.2 L549.8,95.4 L561.4,91.0 L569.5,96.0 Z" fill="#4e4e4e" stroke="#222" stroke-width="0.5" stroke-linejoin="round" />
<path d="M549.8,95.4 L545.8,85.9 L557.0,80.7 L561.4,91.0 Z" fill="#757575" stroke="#222" stroke-width="0.5" stroke-linejoin="round" />
<path d="M545.8,85.9 L547.6,77.2 L559.0,71.4 L557.0,80.7 Z" fill="#4e4e4e" stroke="#222" stroke-width="0.5" stroke-linejoin="round" />
<path d="M547.6,77.2 L554.3,74.4 L566.1,68.4 L559.0,71.4 Z" fill="#757575" stroke="#222" stroke-width="0.5" stroke-linejoin="round" />
<path d="M554.3,74.4 L561.8,79.1 L574.2,73.4 L566.1,68.4 Z" fill="#4e4e4e" stroke="#222" stroke-width="0.5" stroke-linejoin="round" />
<path d="M561.8,79.1 L565.8,88.6 L578.5,83.7 L574.2,73.4 Z" fill="#757575" stroke="#222" stroke-width="0.5" stroke-linejoin="round" />
<path d="M565.8,88.6 L564.0,97.4 L557.4,100.2 L549.8,95.4 L545.8,85.9 L547.6,77.2 L554.3,74.4 L561.8,79.1 Z" fill="#858585" stroke="#222" stroke-width="0.8" stroke-linejoin="round" />
<ellipse cx="555.8" cy="87.3" rx="5.6" ry="8.6" transform="rotate(-23 555.8 87.3)" fill="#8e8e8e" stroke="#222" stroke-width="0.8"/>
<ellipse cx="556.3" cy="87.3" rx="3.7" ry="5.9" transform="rotate(-23 556.3 87.3)" fill="#b0b0b0" stroke="#222" stroke-width="0.8"/>
<ellipse cx="122.0" cy="223.8" rx="55.9" ry="79.7" transform="rotate(-17 122.0 223.8)" fill="none" stroke="#2b2b2b" stroke-width="2.4" stroke-dasharray="2.6 2.6"/>
<ellipse cx="133.3" cy="220.4" rx="55.7" ry="79.4" transform="rotate(-17 133.3 220.4)" fill="none" stroke="#2b2b2b" stroke-width="2.4" stroke-dasharray="2.6 2.8"/>
<ellipse cx="140.8" cy="218.1" rx="50.0" ry="71.4" transform="rotate(-17 140.8 218.1)" fill="#2b2b2b" stroke="none" stroke-width="0"/>
<ellipse cx="139.3" cy="218.6" rx="51.5" ry="73.5" transform="rotate(-17 139.3 218.6)" fill="#2b2b2b" stroke="none" stroke-width="0"/>
<ellipse cx="137.8" cy="219.0" rx="52.8" ry="75.3" transform="rotate(-17 137.8 219.0)" fill="#2b2b2b" stroke="none" stroke-width="0"/>
<ellipse cx="136.3" cy="219.5" rx="53.9" ry="76.8" transform="rotate(-17 136.3 219.5)" fill="#2b2b2b" stroke="none" stroke-width="0"/>
<ellipse cx="134.8" cy="219.9" rx="54.7" ry="78.1" transform="rotate(-17 134.8 219.9)" fill="#2b2b2b" stroke="none" stroke-width="0"/>
<ellipse cx="133.4" cy="220.4" rx="55.4" ry="79.0" transform="rotate(-17 133.4 220.4)" fill="#2b2b2b" stroke="none" stroke-width="0"/>
<ellipse cx="131.9" cy="220.8" rx="55.9" ry="79.8" transform="rotate(-17 131.9 220.8)" fill="#2b2b2b" stroke="none" stroke-width="0"/>
<ellipse cx="130.4" cy="221.3" rx="56.3" ry="80.3" transform="rotate(-17 130.4 221.3)" fill="#2b2b2b" stroke="none" stroke-width="0"/>
<ellipse cx="128.9" cy="221.7" rx="56.5" ry="80.5" transform="rotate(-17 128.9 221.7)" fill="#2b2b2b" stroke="none" stroke-width="0"/>
<ellipse cx="127.4" cy="222.2" rx="56.5" ry="80.6" transform="rotate(-17 127.4 222.2)" fill="#2b2b2b" stroke="none" stroke-width="0"/>
<ellipse cx="125.9" cy="222.7" rx="56.5" ry="80.5" transform="rotate(-17 125.9 222.7)" fill="#2b2b2b" stroke="none" stroke-width="0"/>
<ellipse cx="124.4" cy="223.1" rx="56.3" ry="80.3" transform="rotate(-17 124.4 223.1)" fill="#2b2b2b" stroke="none" stroke-width="0"/>
<ellipse cx="122.9" cy="223.6" rx="55.9" ry="79.8" transform="rotate(-17 122.9 223.6)" fill="#2b2b2b" stroke="none" stroke-width="0"/>
<ellipse cx="121.4" cy="224.0" rx="55.4" ry="79.0" transform="rotate(-17 121.4 224.0)" fill="#2b2b2b" stroke="none" stroke-width="0"/>
<ellipse cx="120.0" cy="224.5" rx="54.7" ry="78.1" transform="rotate(-17 120.0 224.5)" fill="#2b2b2b" stroke="none" stroke-width="0"/>
<ellipse cx="118.5" cy="224.9" rx="53.9" ry="76.8" transform="rotate(-17 118.5 224.9)" fill="#2b2b2b" stroke="none" stroke-width="0"/>
<ellipse cx="117.0" cy="225.4" rx="52.8" ry="75.3" transform="rotate(-17 117.0 225.4)" fill="#2b2b2b" stroke="none" stroke-width="0"/>
<ellipse cx="115.5" cy="225.8" rx="51.5" ry="73.5" transform="rotate(-17 115.5 225.8)" fill="#2b2b2b" stroke="none" stroke-width="0"/>
<ellipse cx="114.0" cy="226.3" rx="50.0" ry="71.4" transform="rotate(-17 114.0 226.3)" fill="#2b2b2b" stroke="none" stroke-width="0"/>
<ellipse cx="140.8" cy="218.1" rx="49.1" ry="70.5" transform="rotate(-17 140.8 218.1)" fill="#585858" stroke="none" stroke-width="0"/>
<ellipse cx="139.3" cy="218.6" rx="50.6" ry="72.6" transform="rotate(-17 139.3 218.6)" fill="#585858" stroke="none" stroke-width="0"/>
<ellipse cx="137.8" cy="219.0" rx="51.9" ry="74.4" transform="rotate(-17 137.8 219.0)" fill="#585858" stroke="none" stroke-width="0"/>
<ellipse cx="136.3" cy="219.5" rx="53.0" ry="75.9" transform="rotate(-17 136.3 219.5)" fill="#585858" stroke="none" stroke-width="0"/>
<ellipse cx="134.8" cy="219.9" rx="53.8" ry="77.2" transform="rotate(-17 134.8 219.9)" fill="#585858" stroke="none" stroke-width="0"/>
<ellipse cx="133.4" cy="220.4" rx="54.5" ry="78.1" transform="rotate(-17 133.4 220.4)" fill="#585858" stroke="none" stroke-width="0"/>
<ellipse cx="131.9" cy="220.8" rx="55.0" ry="78.9" transform="rotate(-17 131.9 220.8)" fill="#585858" stroke="none" stroke-width="0"/>
<ellipse cx="130.4" cy="221.3" rx="55.4" ry="79.4" transform="rotate(-17 130.4 221.3)" fill="#585858" stroke="none" stroke-width="0"/>
<ellipse cx="128.9" cy="221.7" rx="55.6" ry="79.6" transform="rotate(-17 128.9 221.7)" fill="#585858" stroke="none" stroke-width="0"/>
<ellipse cx="127.4" cy="222.2" rx="55.6" ry="79.7" transform="rotate(-17 127.4 222.2)" fill="#585858" stroke="none" stroke-width="0"/>
<ellipse cx="125.9" cy="222.7" rx="55.6" ry="79.6" transform="rotate(-17 125.9 222.7)" fill="#585858" stroke="none" stroke-width="0"/>
<ellipse cx="124.4" cy="223.1" rx="55.4" ry="79.4" transform="rotate(-17 124.4 223.1)" fill="#585858" stroke="none" stroke-width="0"/>
<ellipse cx="122.9" cy="223.6" rx="55.0" ry="78.9" transform="rotate(-17 122.9 223.6)" fill="#585858" stroke="none" stroke-width="0"/>
<ellipse cx="121.4" cy="224.0" rx="54.5" ry="78.1" transform="rotate(-17 121.4 224.0)" fill="#585858" stroke="none" stroke-width="0"/>
<ellipse cx="120.0" cy="224.5" rx="53.8" ry="77.2" transform="rotate(-17 120.0 224.5)" fill="#585858" stroke="none" stroke-width="0"/>
<ellipse cx="118.5" cy="224.9" rx="53.0" ry="75.9" transform="rotate(-17 118.5 224.9)" fill="#585858" stroke="none" stroke-width="0"/>
<ellipse cx="117.0" cy="225.4" rx="51.9" ry="74.4" transform="rotate(-17 117.0 225.4)" fill="#585858" stroke="none" stroke-width="0"/>
<ellipse cx="115.5" cy="225.8" rx="50.6" ry="72.6" transform="rotate(-17 115.5 225.8)" fill="#585858" stroke="none" stroke-width="0"/>
<ellipse cx="114.0" cy="226.3" rx="49.1" ry="70.5" transform="rotate(-17 114.0 226.3)" fill="#585858" stroke="none" stroke-width="0"/>
<path d="M91.7,155.3 L94.2,154.4 L96.7,150.1 L94.0,151.0 Z" fill="#b0b0b0" stroke="#1e1e1e" stroke-width="0.45" stroke-linejoin="round" />
<path d="M94.8,154.3 L97.4,153.6 L100.0,149.2 L97.3,149.9 Z" fill="#b0b0b0" stroke="#1e1e1e" stroke-width="0.45" stroke-linejoin="round" />
<path d="M98.0,153.5 L100.6,153.0 L103.4,148.6 L100.6,149.1 Z" fill="#b0b0b0" stroke="#1e1e1e" stroke-width="0.45" stroke-linejoin="round" />
<path d="M100.4,147.6 L103.6,147.0 L113.7,143.4 L110.4,144.0 Z" fill="#b4b4b4" stroke="#1e1e1e" stroke-width="0.55" stroke-linejoin="round" />
<path d="M116.4,143.2 L125.7,148.2" fill="none" stroke="#1e1e1e" stroke-width="0.7" stroke-linecap="round" stroke-linejoin="round" />
<path d="M101.2,153.0 L103.9,152.8 L106.8,148.3 L104.0,148.6 Z" fill="#b0b0b0" stroke="#1e1e1e" stroke-width="0.45" stroke-linejoin="round" />
<path d="M104.5,152.8 L107.3,152.8 L110.4,148.4 L107.5,148.3 Z" fill="#b0b0b0" stroke="#1e1e1e" stroke-width="0.45" stroke-linejoin="round" />
<path d="M112.7,143.5 L116.1,143.4 L127.6,145.6 L124.4,145.7 Z" fill="#afafaf" stroke="#1e1e1e" stroke-width="0.55" stroke-linejoin="round" />
<path d="M111.5,147.4 L117.2,143.7" fill="none" stroke="#1e1e1e" stroke-width="0.7" stroke-linecap="round" stroke-linejoin="round" />
<path d="M107.9,152.8 L110.7,153.1 L113.9,148.7 L111.0,148.4 Z" fill="#b0b0b0" stroke="#1e1e1e" stroke-width="0.45" stroke-linejoin="round" />
<path d="M111.3,153.2 L114.1,153.7 L117.5,149.3 L114.5,148.8 Z" fill="#b0b0b0" stroke="#1e1e1e" stroke-width="0.45" stroke-linejoin="round" />
<path d="M114.4,146.6 L117.8,147.1 L128.0,143.5 L124.6,143.0 Z" fill="#b4b4b4" stroke="#1e1e1e" stroke-width="0.55" stroke-linejoin="round" />
<path d="M130.7,144.0 L138.7,148.9" fill="none" stroke="#1e1e1e" stroke-width="0.7" stroke-linecap="round" stroke-linejoin="round" />
<path d="M114.7,153.8 L117.5,154.6 L121.0,150.2 L118.1,149.4 Z" fill="#b0b0b0" stroke="#1e1e1e" stroke-width="0.45" stroke-linejoin="round" />
<path d="M118.1,154.7 L120.9,155.7 L124.6,151.4 L121.7,150.4 Z" fill="#b0b0b0" stroke="#1e1e1e" stroke-width="0.45" stroke-linejoin="round" />
<path d="M127.3,144.9 L130.8,146.0 L141.3,148.0 L138.0,147.1 Z" fill="#afafaf" stroke="#1e1e1e" stroke-width="0.55" stroke-linejoin="round" />
<path d="M125.9,150.6 L131.9,147.0" fill="none" stroke="#1e1e1e" stroke-width="0.7" stroke-linecap="round" stroke-linejoin="round" />
<path d="M121.5,155.9 L124.3,157.1 L128.2,152.9 L125.3,151.7 Z" fill="#b0b0b0" stroke="#1e1e1e" stroke-width="0.45" stroke-linejoin="round" />
<path d="M124.9,157.4 L127.7,158.8 L131.7,154.7 L128.8,153.2 Z" fill="#b0b0b0" stroke="#1e1e1e" stroke-width="0.45" stroke-linejoin="round" />
<path d="M128.9,150.5 L132.3,152.1 L142.6,148.5 L139.2,146.9 Z" fill="#b4b4b4" stroke="#1e1e1e" stroke-width="0.55" stroke-linejoin="round" />
<path d="M145.2,149.6 L151.8,154.0" fill="none" stroke="#1e1e1e" stroke-width="0.7" stroke-linecap="round" stroke-linejoin="round" />
<path d="M128.3,159.2 L131.0,160.8 L135.2,156.7 L132.3,155.0 Z" fill="#b0b0b0" stroke="#1e1e1e" stroke-width="0.45" stroke-linejoin="round" />
<path d="M131.6,161.2 L134.3,163.0 L138.6,159.1 L135.8,157.1 Z" fill="#b0b0b0" stroke="#1e1e1e" stroke-width="0.45" stroke-linejoin="round" />
<path d="M142.0,151.2 L145.3,153.4 L154.8,154.9 L151.7,152.9 Z" fill="#afafaf" stroke="#1e1e1e" stroke-width="0.55" stroke-linejoin="round" />
<path d="M140.0,158.4 L146.4,155.0" fill="none" stroke="#1e1e1e" stroke-width="0.7" stroke-linecap="round" stroke-linejoin="round" />
<path d="M134.8,163.4 L137.4,165.5 L141.9,161.6 L139.2,159.5 Z" fill="#b0b0b0" stroke="#1e1e1e" stroke-width="0.45" stroke-linejoin="round" />
<path d="M138.0,166.0 L140.6,168.2 L145.2,164.5 L142.5,162.1 Z" fill="#b0b0b0" stroke="#1e1e1e" stroke-width="0.45" stroke-linejoin="round" />
<path d="M143.0,158.9 L146.1,161.5 L156.5,158.0 L153.3,155.4 Z" fill="#b4b4b4" stroke="#1e1e1e" stroke-width="0.55" stroke-linejoin="round" />
<path d="M158.9,159.6 L164.2,163.1" fill="none" stroke="#1e1e1e" stroke-width="0.7" stroke-linecap="round" stroke-linejoin="round" />
<path d="M141.1,168.7 L143.6,171.1 L148.3,167.5 L145.7,165.0 Z" fill="#b0b0b0" stroke="#1e1e1e" stroke-width="0.45" stroke-linejoin="round" />
<path d="M144.1,171.7 L146.5,174.3 L151.3,170.8 L148.9,168.1 Z" fill="#b0b0b0" stroke="#1e1e1e" stroke-width="0.45" stroke-linejoin="round" />
<path d="M155.7,162.0 L158.7,165.1 L167.2,165.8 L164.4,162.9 Z" fill="#afafaf" stroke="#1e1e1e" stroke-width="0.55" stroke-linejoin="round" />
<path d="M152.8,170.4 L159.5,167.2" fill="none" stroke="#1e1e1e" stroke-width="0.7" stroke-linecap="round" stroke-linejoin="round" />
<path d="M147.0,174.8 L149.2,177.6 L154.3,174.3 L151.9,171.4 Z" fill="#b0b0b0" stroke="#1e1e1e" stroke-width="0.45" stroke-linejoin="round" />
<path d="M149.7,178.2 L151.9,181.1 L157.0,178.0 L154.8,175.0 Z" fill="#b0b0b0" stroke="#1e1e1e" stroke-width="0.45" stroke-linejoin="round" />
<path d="M155.7,171.5 L158.4,174.9 L168.9,171.5 L166.1,168.0 Z" fill="#b4b4b4" stroke="#1e1e1e" stroke-width="0.55" stroke-linejoin="round" />
<path d="M171.0,173.5 L175.1,175.7" fill="none" stroke="#1e1e1e" stroke-width="0.7" stroke-linecap="round" stroke-linejoin="round" />
<path d="M152.4,181.8 L154.4,184.9 L159.7,181.9 L157.5,178.7 Z" fill="#b0b0b0" stroke="#1e1e1e" stroke-width="0.45" stroke-linejoin="round" />
<path d="M154.9,185.5 L156.8,188.7 L162.1,186.0 L160.1,182.6 Z" fill="#b0b0b0" stroke="#1e1e1e" stroke-width="0.45" stroke-linejoin="round" />
<path d="M167.7,176.6 L170.1,180.4 L177.8,180.1 L175.5,176.5 Z" fill="#afafaf" stroke="#1e1e1e" stroke-width="0.55" stroke-linejoin="round" />
<path d="M163.7,185.7 L170.6,182.9" fill="none" stroke="#1e1e1e" stroke-width="0.7" stroke-linecap="round" stroke-linejoin="round" />
<path d="M157.2,189.4 L159.0,192.7 L164.4,190.2 L162.6,186.7 Z" fill="#b0b0b0" stroke="#1e1e1e" stroke-width="0.45" stroke-linejoin="round" />
<path d="M159.4,193.5 L161.0,196.9 L166.6,194.5 L164.8,190.9 Z" fill="#b0b0b0" stroke="#1e1e1e" stroke-width="0.45" stroke-linejoin="round" />
<path d="M166.3,187.3 L168.4,191.4 L178.9,188.1 L176.8,184.0 Z" fill="#b4b4b4" stroke="#1e1e1e" stroke-width="0.55" stroke-linejoin="round" />
<path d="M180.6,190.4 L183.8,190.9" fill="none" stroke="#1e1e1e" stroke-width="0.7" stroke-linecap="round" stroke-linejoin="round" />
<path d="M161.4,197.7 L162.9,201.2 L168.5,199.0 L166.9,195.3 Z" fill="#b0b0b0" stroke="#1e1e1e" stroke-width="0.45" stroke-linejoin="round" />
<path d="M163.2,201.9 L164.5,205.5 L170.3,203.5 L168.8,199.8 Z" fill="#b0b0b0" stroke="#1e1e1e" stroke-width="0.45" stroke-linejoin="round" />
<path d="M177.1,194.0 L178.9,198.4 L186.0,196.8 L184.3,192.7 Z" fill="#afafaf" stroke="#1e1e1e" stroke-width="0.55" stroke-linejoin="round" />
<path d="M171.8,203.5 L179.0,201.1" fill="none" stroke="#1e1e1e" stroke-width="0.7" stroke-linecap="round" stroke-linejoin="round" />
<path d="M164.8,206.3 L166.0,209.9 L171.8,208.2 L170.6,204.3 Z" fill="#b0b0b0" stroke="#1e1e1e" stroke-width="0.45" stroke-linejoin="round" />
<path d="M166.3,210.8 L167.3,214.4 L173.2,212.9 L172.1,209.0 Z" fill="#b0b0b0" stroke="#1e1e1e" stroke-width="0.45" stroke-linejoin="round" />
<path d="M174.1,205.5 L175.5,209.9 L186.0,206.7 L184.6,202.2 Z" fill="#b4b4b4" stroke="#1e1e1e" stroke-width="0.55" stroke-linejoin="round" />
<path d="M187.3,209.1 L189.8,207.8" fill="none" stroke="#1e1e1e" stroke-width="0.7" stroke-linecap="round" stroke-linejoin="round" />
<path d="M167.5,215.3 L168.4,219.0 L174.3,217.6 L173.4,213.7 Z" fill="#b0b0b0" stroke="#1e1e1e" stroke-width="0.45" stroke-linejoin="round" />
<path d="M168.6,219.8 L169.3,223.6 L175.2,222.4 L174.5,218.5 Z" fill="#b0b0b0" stroke="#1e1e1e" stroke-width="0.45" stroke-linejoin="round" />
<path d="M183.4,213.2 L184.4,217.8 L191.1,214.8 L190.2,210.5 Z" fill="#afafaf" stroke="#1e1e1e" stroke-width="0.55" stroke-linejoin="round" />
<path d="M176.7,222.5 L184.0,220.7" fill="none" stroke="#1e1e1e" stroke-width="0.7" stroke-linecap="round" stroke-linejoin="round" />
<path d="M169.4,224.4 L170.0,228.1 L175.9,227.2 L175.4,223.3 Z" fill="#b0b0b0" stroke="#1e1e1e" stroke-width="0.45" stroke-linejoin="round" />
<path d="M170.1,229.0 L170.4,232.7 L176.4,232.0 L176.0,228.0 Z" fill="#b0b0b0" stroke="#1e1e1e" stroke-width="0.45" stroke-linejoin="round" />
<path d="M178.6,224.8 L179.2,229.3 L189.7,226.3 L189.2,221.7 Z" fill="#b4b4b4" stroke="#1e1e1e" stroke-width="0.55" stroke-linejoin="round" />
<path d="M190.5,228.6 L192.7,225.4" fill="none" stroke="#1e1e1e" stroke-width="0.7" stroke-linecap="round" stroke-linejoin="round" />
<path d="M170.5,233.5 L170.7,237.2 L176.7,236.7 L176.5,232.8 Z" fill="#b0b0b0" stroke="#1e1e1e" stroke-width="0.45" stroke-linejoin="round" />
<path d="M170.7,238.1 L170.7,241.7 L176.7,241.4 L176.7,237.6 Z" fill="#b0b0b0" stroke="#1e1e1e" stroke-width="0.45" stroke-linejoin="round" />
<path d="M186.2,232.9 L186.3,237.5 L192.9,233.2 L192.8,228.9 Z" fill="#afafaf" stroke="#1e1e1e" stroke-width="0.55" stroke-linejoin="round" />
<path d="M178.1,241.7 L185.5,240.3" fill="none" stroke="#1e1e1e" stroke-width="0.7" stroke-linecap="round" stroke-linejoin="round" />
<path d="M170.7,242.5 L170.5,246.2 L176.5,246.0 L176.7,242.3 Z" fill="#b0b0b0" stroke="#1e1e1e" stroke-width="0.45" stroke-linejoin="round" />
<path d="M170.4,247.0 L170.1,250.5 L176.1,250.6 L176.4,246.9 Z" fill="#b0b0b0" stroke="#1e1e1e" stroke-width="0.45" stroke-linejoin="round" />
<path d="M179.6,244.0 L179.2,248.4 L189.8,245.4 L190.1,241.0 Z" fill="#b4b4b4" stroke="#1e1e1e" stroke-width="0.55" stroke-linejoin="round" />
<path d="M190.1,247.5 L192.3,242.6" fill="none" stroke="#1e1e1e" stroke-width="0.7" stroke-linecap="round" stroke-linejoin="round" />
<path d="M170.0,251.3 L169.5,254.8 L175.4,255.0 L176.0,251.4 Z" fill="#b0b0b0" stroke="#1e1e1e" stroke-width="0.45" stroke-linejoin="round" />
<path d="M169.4,255.5 L168.7,258.9 L174.6,259.4 L175.3,255.8 Z" fill="#b0b0b0" stroke="#1e1e1e" stroke-width="0.45" stroke-linejoin="round" />
<path d="M185.3,252.0 L184.5,256.3 L191.2,250.6 L191.9,246.7 Z" fill="#afafaf" stroke="#1e1e1e" stroke-width="0.55" stroke-linejoin="round" />
<path d="M175.9,259.8 L183.2,258.9" fill="none" stroke="#1e1e1e" stroke-width="0.7" stroke-linecap="round" stroke-linejoin="round" />
<path d="M168.5,259.6 L167.7,262.9 L173.5,263.6 L174.4,260.1 Z" fill="#b0b0b0" stroke="#1e1e1e" stroke-width="0.45" stroke-linejoin="round" />
<path d="M167.4,263.6 L166.4,266.8 L172.2,267.6 L173.3,264.3 Z" fill="#b0b0b0" stroke="#1e1e1e" stroke-width="0.45" stroke-linejoin="round" />
<path d="M176.9,262.0 L175.7,265.9 L186.2,263.1 L187.4,259.1 Z" fill="#b4b4b4" stroke="#1e1e1e" stroke-width="0.55" stroke-linejoin="round" />
<path d="M186.1,264.8 L188.7,258.2" fill="none" stroke="#1e1e1e" stroke-width="0.7" stroke-linecap="round" stroke-linejoin="round" />
<path d="M166.2,267.4 L165.0,270.4 L170.7,271.5 L172.0,268.3 Z" fill="#b0b0b0" stroke="#1e1e1e" stroke-width="0.45" stroke-linejoin="round" />
<path d="M164.7,271.1 L163.4,274.0 L169.0,275.1 L170.4,272.1 Z" fill="#b0b0b0" stroke="#1e1e1e" stroke-width="0.45" stroke-linejoin="round" />
<path d="M180.7,269.2 L179.2,272.9 L186.2,266.1 L187.7,262.7 Z" fill="#afafaf" stroke="#1e1e1e" stroke-width="0.55" stroke-linejoin="round" />
<path d="M170.2,275.6 L177.4,275.1" fill="none" stroke="#1e1e1e" stroke-width="0.7" stroke-linecap="round" stroke-linejoin="round" />
<path d="M163.1,274.6 L161.6,277.3 L167.1,278.6 L168.7,275.8 Z" fill="#b0b0b0" stroke="#1e1e1e" stroke-width="0.45" stroke-linejoin="round" />
<path d="M161.2,277.9 L159.6,280.4 L165.1,281.9 L166.8,279.2 Z" fill="#b0b0b0" stroke="#1e1e1e" stroke-width="0.45" stroke-linejoin="round" />
<path d="M170.7,277.6 L168.8,280.8 L179.3,278.1 L181.2,274.8 Z" fill="#b4b4b4" stroke="#1e1e1e" stroke-width="0.55" stroke-linejoin="round" />
<path d="M178.7,279.3 L182.1,271.3" fill="none" stroke="#1e1e1e" stroke-width="0.7" stroke-linecap="round" stroke-linejoin="round" />
<path d="M159.2,280.9 L157.4,283.3 L162.8,284.9 L164.7,282.4 Z" fill="#b0b0b0" stroke="#1e1e1e" stroke-width="0.45" stroke-linejoin="round" />
<path d="M157.0,283.8 L155.1,286.0 L160.4,287.7 L162.4,285.4 Z" fill="#b0b0b0" stroke="#1e1e1e" stroke-width="0.45" stroke-linejoin="round" />
<path d="M172.8,283.5 L170.5,286.3 L178.2,278.5 L180.4,275.9 Z" fill="#afafaf" stroke="#1e1e1e" stroke-width="0.55" stroke-linejoin="round" />
<path d="M161.4,288.2 L168.4,288.0" fill="none" stroke="#1e1e1e" stroke-width="0.7" stroke-linecap="round" stroke-linejoin="round" />
<path d="M154.7,286.4 L152.6,288.4 L157.8,290.3 L159.9,288.2 Z" fill="#b0b0b0" stroke="#1e1e1e" stroke-width="0.45" stroke-linejoin="round" />
<path d="M152.2,288.8 L150.0,290.6 L155.1,292.6 L157.3,290.7 Z" fill="#b0b0b0" stroke="#1e1e1e" stroke-width="0.45" stroke-linejoin="round" />
<path d="M161.5,289.8 L158.9,292.1 L169.3,289.4 L171.9,287.1 Z" fill="#b4b4b4" stroke="#1e1e1e" stroke-width="0.55" stroke-linejoin="round" />
<path d="M168.5,290.1 L172.8,281.0" fill="none" stroke="#1e1e1e" stroke-width="0.7" stroke-linecap="round" stroke-linejoin="round" />
<path d="M149.5,291.0 L147.3,292.6 L152.2,294.6 L154.6,293.0 Z" fill="#b0b0b0" stroke="#1e1e1e" stroke-width="0.45" stroke-linejoin="round" />
<path d="M146.8,292.9 L144.4,294.2 L149.2,296.3 L151.7,294.9 Z" fill="#b0b0b0" stroke="#1e1e1e" stroke-width="0.45" stroke-linejoin="round" />
<path d="M162.1,293.9 L159.2,295.7 L167.7,287.3 L170.4,285.6 Z" fill="#afafaf" stroke="#1e1e1e" stroke-width="0.55" stroke-linejoin="round" />
<path d="M150.1,296.8 L156.7,296.9" fill="none" stroke="#1e1e1e" stroke-width="0.7" stroke-linecap="round" stroke-linejoin="round" />
<path d="M143.9,294.5 L141.4,295.6 L146.1,297.8 L148.6,296.6 Z" fill="#b0b0b0" stroke="#1e1e1e" stroke-width="0.45" stroke-linejoin="round" />
<path d="M140.9,295.8 L138.3,296.7 L142.9,299.0 L145.5,298.0 Z" fill="#b0b0b0" stroke="#1e1e1e" stroke-width="0.45" stroke-linejoin="round" />
<path d="M149.7,297.9 L146.7,299.1 L157.0,296.5 L160.1,295.3 Z" fill="#b4b4b4" stroke="#1e1e1e" stroke-width="0.55" stroke-linejoin="round" />
<path d="M156.0,296.5 L161.5,286.8" fill="none" stroke="#1e1e1e" stroke-width="0.7" stroke-linecap="round" stroke-linejoin="round" />
<path d="M137.8,296.9 L135.2,297.6 L139.5,299.9 L142.3,299.2 Z" fill="#b0b0b0" stroke="#1e1e1e" stroke-width="0.45" stroke-linejoin="round" />
<path d="M139.9,292.7 L136.8,294.0 L135.1,290.4 L138.0,289.2 Z" fill="#6c6c6c" stroke="#2b2b2b" stroke-width="0.4" stroke-linejoin="round" />
<path d="M134.0,294.9 L130.8,295.6 L129.3,291.8 L132.4,291.2 Z" fill="#6c6c6c" stroke="#2b2b2b" stroke-width="0.4" stroke-linejoin="round" />
<path d="M127.8,295.9 L124.4,296.0 L123.3,292.2 L126.5,292.1 Z" fill="#6c6c6c" stroke="#2b2b2b" stroke-width="0.4" stroke-linejoin="round" />
<path d="M121.4,295.8 L117.9,295.4 L117.2,291.6 L120.4,292.1 Z" fill="#6c6c6c" stroke="#2b2b2b" stroke-width="0.4" stroke-linejoin="round" />
<path d="M114.8,294.7 L111.4,293.6 L111.0,290.0 L114.3,291.0 Z" fill="#6c6c6c" stroke="#2b2b2b" stroke-width="0.4" stroke-linejoin="round" />
<path d="M108.3,292.4 L104.9,290.8 L104.9,287.4 L108.1,288.9 Z" fill="#6c6c6c" stroke="#2b2b2b" stroke-width="0.4" stroke-linejoin="round" />
<path d="M101.8,289.1 L98.5,287.0 L98.9,283.7 L102.0,285.8 Z" fill="#6c6c6c" stroke="#2b2b2b" stroke-width="0.4" stroke-linejoin="round" />
<path d="M95.6,284.9 L92.4,282.2 L93.1,279.2 L96.1,281.7 Z" fill="#6c6c6c" stroke="#2b2b2b" stroke-width="0.4" stroke-linejoin="round" />
<path d="M89.6,279.6 L86.7,276.6 L87.7,273.9 L90.5,276.8 Z" fill="#6c6c6c" stroke="#2b2b2b" stroke-width="0.4" stroke-linejoin="round" />
<path d="M84.1,273.6 L81.3,270.1 L82.7,267.8 L85.3,271.1 Z" fill="#6c6c6c" stroke="#2b2b2b" stroke-width="0.4" stroke-linejoin="round" />
<path d="M79.0,266.8 L76.6,262.9 L78.2,261.0 L80.5,264.7 Z" fill="#6c6c6c" stroke="#2b2b2b" stroke-width="0.4" stroke-linejoin="round" />
<path d="M74.5,259.3 L72.4,255.2 L74.2,253.7 L76.2,257.6 Z" fill="#6c6c6c" stroke="#2b2b2b" stroke-width="0.4" stroke-linejoin="round" />
<path d="M70.6,251.4 L68.8,247.0 L70.9,246.0 L72.6,250.1 Z" fill="#6c6c6c" stroke="#2b2b2b" stroke-width="0.4" stroke-linejoin="round" />
<path d="M67.4,243.0 L66.0,238.5 L68.2,237.9 L69.5,242.2 Z" fill="#6c6c6c" stroke="#2b2b2b" stroke-width="0.4" stroke-linejoin="round" />
<path d="M65.0,234.4 L64.0,229.8 L66.3,229.7 L67.2,234.1 Z" fill="#6c6c6c" stroke="#2b2b2b" stroke-width="0.4" stroke-linejoin="round" />
<path d="M63.3,225.6 L62.8,221.0 L65.1,221.4 L65.7,225.8 Z" fill="#6c6c6c" stroke="#2b2b2b" stroke-width="0.4" stroke-linejoin="round" />
<path d="M62.5,216.9 L62.3,212.3 L64.7,213.2 L64.9,217.5 Z" fill="#6c6c6c" stroke="#2b2b2b" stroke-width="0.4" stroke-linejoin="round" />
<path d="M62.4,208.3 L62.8,203.8 L65.1,205.2 L64.8,209.4 Z" fill="#6c6c6c" stroke="#2b2b2b" stroke-width="0.4" stroke-linejoin="round" />
<path d="M63.2,199.9 L64.0,195.7 L66.3,197.6 L65.6,201.6 Z" fill="#6c6c6c" stroke="#2b2b2b" stroke-width="0.4" stroke-linejoin="round" />
<path d="M64.8,192.0 L66.0,188.0 L68.2,190.4 L67.1,194.1 Z" fill="#6c6c6c" stroke="#2b2b2b" stroke-width="0.4" stroke-linejoin="round" />
<path d="M67.2,184.6 L68.8,181.0 L70.8,183.7 L69.3,187.1 Z" fill="#6c6c6c" stroke="#2b2b2b" stroke-width="0.4" stroke-linejoin="round" />
<path d="M70.3,177.9 L72.3,174.7 L74.1,177.7 L72.3,180.8 Z" fill="#6c6c6c" stroke="#2b2b2b" stroke-width="0.4" stroke-linejoin="round" />
<path d="M74.2,172.0 L76.4,169.2 L78.0,172.5 L75.9,175.2 Z" fill="#6c6c6c" stroke="#2b2b2b" stroke-width="0.4" stroke-linejoin="round" />
<path d="M78.6,166.9 L81.2,164.5 L82.5,168.2 L80.1,170.3 Z" fill="#6c6c6c" stroke="#2b2b2b" stroke-width="0.4" stroke-linejoin="round" />
<path d="M83.7,162.7 L86.5,160.9 L87.5,164.7 L84.9,166.4 Z" fill="#6c6c6c" stroke="#2b2b2b" stroke-width="0.4" stroke-linejoin="round" />
<path d="M89.2,159.5 L92.2,158.3 L93.0,162.2 L90.1,163.4 Z" fill="#6c6c6c" stroke="#2b2b2b" stroke-width="0.4" stroke-linejoin="round" />
<path d="M95.1,157.4 L98.3,156.7 L98.7,160.8 L95.6,161.4 Z" fill="#6c6c6c" stroke="#2b2b2b" stroke-width="0.4" stroke-linejoin="round" />
<ellipse cx="114.5" cy="226.1" rx="49.0" ry="70.0" transform="rotate(-17 114.5 226.1)" fill="#4b4b4b" stroke="#262626" stroke-width="0.8"/>
<ellipse cx="118.6" cy="224.9" rx="47.2" ry="67.5" transform="rotate(-17 118.6 224.9)" fill="#525252" stroke="#2a2a2a" stroke-width="0.6"/>
<ellipse cx="122.8" cy="223.6" rx="45.2" ry="64.6" transform="rotate(-17 122.8 223.6)" fill="#5a5a5a" stroke="#949494" stroke-width="1.7"/>
<ellipse cx="123.7" cy="223.3" rx="42.4" ry="60.6" transform="rotate(-17 123.7 223.3)" fill="#858585" stroke="#222" stroke-width="0.7"/>
<path d="M149.1,228.0 L149.0,233.6 L165.1,244.3 L165.5,228.2 Z" fill="#9a9a9a" stroke="#222" stroke-width="0.6" stroke-linejoin="round" />
<path d="M142.8,249.8 L139.7,252.8 L147.6,275.1 L156.7,266.4 Z" fill="#f9c4c8" stroke="#222" stroke-width="0.6" stroke-linejoin="round" />
<path d="M142.8,249.8 L139.7,252.8 L143.6,263.0 L149.0,257.8 Z" fill="#9a9a9a" stroke="#222" stroke-width="0.4" stroke-linejoin="round" />
<path d="M125.7,256.0 L121.4,254.6 L116.1,275.6 L128.6,279.4 Z" fill="#f9c4c8" stroke="#222" stroke-width="0.6" stroke-linejoin="round" />
<path d="M107.8,242.9 L104.8,238.0 L89.1,245.4 L97.6,259.6 Z" fill="#9a9a9a" stroke="#222" stroke-width="0.6" stroke-linejoin="round" />
<path d="M99.6,218.3 L99.7,212.6 L82.4,202.3 L81.9,218.5 Z" fill="#f9c4c8" stroke="#222" stroke-width="0.6" stroke-linejoin="round" />
<path d="M105.9,196.5 L109.1,193.4 L99.8,171.5 L90.8,180.2 Z" fill="#f9c4c8" stroke="#222" stroke-width="0.6" stroke-linejoin="round" />
<path d="M105.9,196.5 L109.1,193.4 L104.5,183.5 L99.1,188.7 Z" fill="#9a9a9a" stroke="#222" stroke-width="0.4" stroke-linejoin="round" />
<path d="M123.0,190.3 L127.3,191.6 L131.3,171.1 L118.9,167.2 Z" fill="#9a9a9a" stroke="#222" stroke-width="0.6" stroke-linejoin="round" />
<path d="M140.9,203.3 L143.9,208.3 L158.4,201.2 L149.9,187.1 Z" fill="#9a9a9a" stroke="#222" stroke-width="0.6" stroke-linejoin="round" />
<path d="M137.3,213.6 L140.6,226.0 L167.6,228.4 L160.1,200.1 Z" fill="#505050" stroke="#222" stroke-width="0.6" stroke-linejoin="round" />
<path d="M142.7,217.3 L143.6,220.4 L164.7,217.6 L162.9,210.9 Z" fill="#8d8d8d" stroke="#222" stroke-width="0.4" stroke-linejoin="round" />
<path d="M140.5,230.0 L136.6,240.1 L158.4,268.7 L167.2,245.5 Z" fill="#505050" stroke="#222" stroke-width="0.6" stroke-linejoin="round" />
<path d="M143.1,237.4 L142.2,240.0 L161.7,259.8 L163.8,254.2 Z" fill="#8d8d8d" stroke="#222" stroke-width="0.4" stroke-linejoin="round" />
<path d="M134.4,242.2 L125.7,244.2 L128.7,282.4 L148.8,277.9 Z" fill="#505050" stroke="#222" stroke-width="0.6" stroke-linejoin="round" />
<path d="M132.6,249.1 L130.4,249.6 L136.4,280.6 L141.2,279.5 Z" fill="#8d8d8d" stroke="#222" stroke-width="0.4" stroke-linejoin="round" />
<path d="M122.6,243.2 L114.1,235.9 L96.1,261.5 L115.7,278.3 Z" fill="#505050" stroke="#222" stroke-width="0.6" stroke-linejoin="round" />
<path d="M117.4,245.6 L115.2,243.7 L103.7,267.8 L108.3,271.8 Z" fill="#8d8d8d" stroke="#222" stroke-width="0.4" stroke-linejoin="round" />
<path d="M112.0,232.4 L108.8,220.1 L79.7,218.3 L87.2,246.6 Z" fill="#505050" stroke="#222" stroke-width="0.6" stroke-linejoin="round" />
<path d="M106.3,228.8 L105.5,225.7 L82.7,229.0 L84.5,235.8 Z" fill="#8d8d8d" stroke="#222" stroke-width="0.4" stroke-linejoin="round" />
<path d="M108.9,216.1 L112.7,206.0 L88.9,178.0 L80.1,201.2 Z" fill="#505050" stroke="#222" stroke-width="0.6" stroke-linejoin="round" />
<path d="M105.9,208.7 L106.9,206.2 L85.7,186.9 L83.6,192.4 Z" fill="#8d8d8d" stroke="#222" stroke-width="0.4" stroke-linejoin="round" />
<path d="M115.0,203.9 L123.7,201.9 L118.6,164.3 L98.5,168.8 Z" fill="#505050" stroke="#222" stroke-width="0.6" stroke-linejoin="round" />
<path d="M116.4,197.0 L118.6,196.5 L111.0,166.1 L106.2,167.2 Z" fill="#8d8d8d" stroke="#222" stroke-width="0.4" stroke-linejoin="round" />
<path d="M126.7,202.8 L135.2,210.2 L151.2,185.2 L131.7,168.3 Z" fill="#505050" stroke="#222" stroke-width="0.6" stroke-linejoin="round" />
<path d="M131.7,200.6 L133.8,202.4 L143.7,178.8 L139.1,174.8 Z" fill="#8d8d8d" stroke="#222" stroke-width="0.4" stroke-linejoin="round" />
<ellipse cx="123.7" cy="223.3" rx="42.4" ry="60.6" transform="rotate(-17 123.7 223.3)" fill="none" stroke="#222" stroke-width="0.8"/>
<ellipse cx="125.3" cy="222.9" rx="17.5" ry="27.0" transform="rotate(-17 125.3 222.9)" fill="#7c7c7c" stroke="#222" stroke-width="0.8"/>
<ellipse cx="128.7" cy="222.1" rx="10.4" ry="16.0" transform="rotate(-17 128.7 222.1)" fill="#4e4e4e" stroke="#222" stroke-width="0.8"/>
<ellipse cx="125.9" cy="222.7" rx="9.8" ry="15.4" transform="rotate(-17 125.9 222.7)" fill="#444" stroke="#222" stroke-width="0.8"/>
<ellipse cx="131.3" cy="220.7" rx="7.6" ry="11.6" transform="rotate(-17 131.3 220.7)" fill="#9e9e9e" stroke="#222" stroke-width="0.8"/>
<ellipse cx="132.5" cy="220.3" rx="4.4" ry="7.0" transform="rotate(-17 132.5 220.3)" fill="#f3d9dc" stroke="#222" stroke-width="0.8"/>
<ellipse cx="497.7" cy="104.9" rx="4.6" ry="6.7" transform="rotate(-12 497.7 104.9)" fill="#8a8a8a" stroke="#161616" stroke-width="0.9"/>
<path d="M491.8,106.1 L491.8,106.1 Z" fill="none" stroke="none" stroke-width="0" stroke-linejoin="round" />
<path d="M493.2,112.7 L499.1,111.4 L496.3,98.3 L490.4,99.5 Z" fill="#8a8a8a" stroke="#161616" stroke-width="0.8" stroke-linejoin="round" />
<ellipse cx="497.7" cy="104.9" rx="4.3" ry="6.3" transform="rotate(-12 497.7 104.9)" fill="#8a8a8a" stroke="none" stroke-width="0"/>
<ellipse cx="493.1" cy="105.8" rx="5.4" ry="7.8" transform="rotate(-12 493.1 105.8)" fill="#8a8a8a" stroke="#161616" stroke-width="0.9"/>
<ellipse cx="491.8" cy="106.1" rx="5.4" ry="7.8" transform="rotate(-12 491.8 106.1)" fill="#b6b6b6" stroke="#161616" stroke-width="1.0"/>
<ellipse cx="492.1" cy="106.1" rx="3.2" ry="4.7" transform="rotate(-12 492.1 106.1)" fill="#a2a2a2" stroke="#161616" stroke-width="0.8"/>
<ellipse cx="492.3" cy="106.1" rx="1.7" ry="2.7" transform="rotate(-12 492.3 106.1)" fill="#c4c4c4" stroke="#161616" stroke-width="0.5"/>
<ellipse cx="641.1" cy="60.2" rx="4.8" ry="6.7" transform="rotate(-12 641.1 60.2)" fill="#8a8a8a" stroke="#161616" stroke-width="0.9"/>
<path d="M635.2,61.4 L635.2,61.4 Z" fill="none" stroke="none" stroke-width="0" stroke-linejoin="round" />
<path d="M636.6,68.0 L642.5,66.7 L639.7,53.6 L633.8,54.8 Z" fill="#8a8a8a" stroke="#161616" stroke-width="0.8" stroke-linejoin="round" />
<ellipse cx="641.1" cy="60.2" rx="4.5" ry="6.3" transform="rotate(-12 641.1 60.2)" fill="#8a8a8a" stroke="none" stroke-width="0"/>
<ellipse cx="636.5" cy="61.1" rx="5.6" ry="7.8" transform="rotate(-12 636.5 61.1)" fill="#8a8a8a" stroke="#161616" stroke-width="0.9"/>
<ellipse cx="635.2" cy="61.4" rx="5.6" ry="7.8" transform="rotate(-12 635.2 61.4)" fill="#b6b6b6" stroke="#161616" stroke-width="1.0"/>
<ellipse cx="635.5" cy="61.4" rx="3.4" ry="4.7" transform="rotate(-12 635.5 61.4)" fill="#a2a2a2" stroke="#161616" stroke-width="0.8"/>
<ellipse cx="635.7" cy="61.4" rx="1.8" ry="2.7" transform="rotate(-12 635.7 61.4)" fill="#c4c4c4" stroke="#161616" stroke-width="0.5"/>
<path d="M657.0,52.6 L655.1,56.3 L651.5,56.3 L649.6,52.6 L651.5,48.9 L655.1,48.9 Z" fill="#777" stroke="#161616" stroke-width="0.8" stroke-linejoin="round" />
<path d="M655.1,53.1 L653.2,56.8 L649.6,56.8 L647.7,53.1 L649.6,49.4 L653.2,49.4 Z" fill="#a8a8a8" stroke="#161616" stroke-width="0.8" stroke-linejoin="round" />
<ellipse cx="651.4" cy="53.1" rx="2.1" ry="2.4" transform="rotate(0 651.4 53.1)" fill="#b0b0b0" stroke="#1c1c1c" stroke-width="0.6"/>
<ellipse cx="651.6" cy="53.1" rx="1.1" ry="1.3" transform="rotate(0 651.6 53.1)" fill="#555" stroke="none" stroke-width="0"/>
<ellipse cx="679.2" cy="42.8" rx="12.2" ry="18.2" transform="rotate(-24 679.2 42.8)" fill="#151515" stroke="#111" stroke-width="0.8"/>
<ellipse cx="676.6" cy="43.6" rx="10.6" ry="16.6" transform="rotate(-24 676.6 43.6)" fill="#b0b0b0" stroke="#222" stroke-width="0.6"/>
<ellipse cx="677.8" cy="44.4" rx="9.4" ry="14.6" transform="rotate(-24 677.8 44.4)" fill="#9f9f9f" stroke="#333" stroke-width="0.7"/>
<ellipse cx="202.1" cy="198.8" rx="4.3" ry="6.7" transform="rotate(-12 202.1 198.8)" fill="#3a3a3a" stroke="#161616" stroke-width="0.9"/>
<path d="M196.2,200.0 L196.2,200.0 Z" fill="none" stroke="none" stroke-width="0" stroke-linejoin="round" />
<path d="M197.6,206.6 L203.5,205.3 L200.7,192.2 L194.8,193.4 Z" fill="#3a3a3a" stroke="#161616" stroke-width="0.8" stroke-linejoin="round" />
<ellipse cx="202.1" cy="198.8" rx="4.0" ry="6.3" transform="rotate(-12 202.1 198.8)" fill="#3a3a3a" stroke="none" stroke-width="0"/>
<ellipse cx="197.5" cy="199.7" rx="5.0" ry="7.8" transform="rotate(-12 197.5 199.7)" fill="#3a3a3a" stroke="#161616" stroke-width="0.9"/>
<ellipse cx="196.2" cy="200.0" rx="5.0" ry="7.8" transform="rotate(-12 196.2 200.0)" fill="#4e4e4e" stroke="#161616" stroke-width="1.0"/>
<ellipse cx="196.5" cy="200.0" rx="3.0" ry="4.7" transform="rotate(-12 196.5 200.0)" fill="#3f3f3f" stroke="#161616" stroke-width="0.8"/>
<ellipse cx="196.7" cy="200.0" rx="1.6" ry="2.7" transform="rotate(-12 196.7 200.0)" fill="#9a9a9a" stroke="none" stroke-width="0.5"/>
<ellipse cx="62.8" cy="247.8" rx="4.6" ry="6.4" transform="rotate(-12 62.8 247.8)" fill="#3a3a3a" stroke="#161616" stroke-width="0.9"/>
<path d="M56.4,249.2 L56.4,249.2 Z" fill="none" stroke="none" stroke-width="0" stroke-linejoin="round" />
<path d="M57.7,255.4 L64.1,254.1 L61.4,241.6 L55.1,243.0 Z" fill="#3a3a3a" stroke="#161616" stroke-width="0.8" stroke-linejoin="round" />
<ellipse cx="62.8" cy="247.8" rx="4.3" ry="6.0" transform="rotate(-12 62.8 247.8)" fill="#3a3a3a" stroke="none" stroke-width="0"/>
<ellipse cx="57.7" cy="248.9" rx="5.4" ry="7.4" transform="rotate(-12 57.7 248.9)" fill="#3a3a3a" stroke="#161616" stroke-width="0.9"/>
<ellipse cx="56.4" cy="249.2" rx="5.4" ry="7.4" transform="rotate(-12 56.4 249.2)" fill="#4e4e4e" stroke="#161616" stroke-width="1.0"/>
<ellipse cx="56.7" cy="249.2" rx="3.2" ry="4.4" transform="rotate(-12 56.7 249.2)" fill="#3f3f3f" stroke="#161616" stroke-width="0.8"/>
<ellipse cx="56.9" cy="249.2" rx="1.7" ry="2.5" transform="rotate(-12 56.9 249.2)" fill="#9a9a9a" stroke="none" stroke-width="0.5"/>
<path d="M43.9,255.9 L42.0,259.6 L38.4,259.6 L36.5,255.9 L38.4,252.2 L42.0,252.2 Z" fill="#222" stroke="#161616" stroke-width="0.8" stroke-linejoin="round" />
<path d="M42.0,256.4 L40.1,260.1 L36.5,260.1 L34.6,256.4 L36.5,252.7 L40.1,252.7 Z" fill="#4e4e4e" stroke="#161616" stroke-width="0.8" stroke-linejoin="round" />
<ellipse cx="38.3" cy="256.4" rx="2.1" ry="2.4" transform="rotate(0 38.3 256.4)" fill="#b0b0b0" stroke="#1c1c1c" stroke-width="0.6"/>
<ellipse cx="38.5" cy="256.4" rx="1.1" ry="1.3" transform="rotate(0 38.5 256.4)" fill="#555" stroke="none" stroke-width="0"/>
<ellipse cx="15.2" cy="266.2" rx="12.0" ry="18.2" transform="rotate(-24 15.2 266.2)" fill="#8e8e8e" stroke="#1a1a1a" stroke-width="0.9"/>
<ellipse cx="13.0" cy="266.9" rx="11.2" ry="17.4" transform="rotate(-24 13.0 266.9)" fill="#555555" stroke="#1a1a1a" stroke-width="0.9"/>
<line x1="178.0" y1="38.0" x2="264.0" y2="9.2" stroke="#1c1c1c" stroke-width="3.0" stroke-linecap="round"/>
<line x1="178.3" y1="37.9" x2="264.0" y2="9.2" stroke="#6a6a6a" stroke-width="1.6" stroke-linecap="round"/>
<line x1="178.0" y1="38.0" x2="186.0" y2="35.3" stroke="#8a8a8a" stroke-width="1.8" stroke-linecap="round"/>
<ellipse cx="266.2" cy="8.2" rx="2.4" ry="3.6" transform="rotate(-15 266.2 8.2)" fill="#6c6c6c" stroke="#1c1c1c" stroke-width="0.8"/>
<ellipse cx="265.2" cy="8.5" rx="1.6" ry="3.0" transform="rotate(-15 265.2 8.5)" fill="#8a8a8a" stroke="#1c1c1c" stroke-width="0.5"/>
<path d="M173.9,42.5 L172.4,45.5 L169.4,45.5 L167.9,42.5 L169.4,39.5 L172.4,39.5 Z" fill="#1e1e1e" stroke="#161616" stroke-width="0.8" stroke-linejoin="round" />
<path d="M172.0,43.0 L170.5,46.0 L167.5,46.0 L166.0,43.0 L167.5,40.0 L170.5,40.0 Z" fill="#555" stroke="#161616" stroke-width="0.8" stroke-linejoin="round" />
<ellipse cx="169.0" cy="43.0" rx="1.7" ry="1.9" transform="rotate(0 169.0 43.0)" fill="#b0b0b0" stroke="#1c1c1c" stroke-width="0.6"/>
<ellipse cx="169.2" cy="43.0" rx="0.9" ry="1.1" transform="rotate(0 169.2 43.0)" fill="#555" stroke="none" stroke-width="0"/>
<path d="M189.5,66.5 L287.5,32.0 Q290.8,31.2 290.6,34.5 L287.6,72.0 Q287.4,75.2 284.5,76.4 L188.0,111.0 Q184.2,112.0 184.3,108.5 L186.4,70.0 Q186.6,67.4 189.5,66.5 Z" fill="#3a3a3a" stroke="#1c1c1c" stroke-width="1.0" stroke-linejoin="round" stroke-linecap="round" />
<path d="M190.6,67.2 L287.8,33.0 Q290.6,32.2 290.3,35.0 L287.4,71.0 Q287.2,74.0 284.6,75.0 L189.6,109.0 Q186.2,110.0 186.3,107.0 L188.0,70.4 Q188.2,68.0 190.6,67.2 Z" fill="#595959" stroke="#1c1c1c" stroke-width="0.6" stroke-linejoin="round" stroke-linecap="round" />
<path d="M199.3,59.2 L280.2,30.6 L280.6,33.4 L199.8,62.0 Z" fill="#8e8e8e" stroke="#1c1c1c" stroke-width="0.6" stroke-linejoin="round" />
<path d="M198.6,54.0 L277.8,26.0 Q280.6,25.4 281.0,27.8 Q281.2,30.2 279.0,31.2 L200.0,59.4 Q197.6,59.8 197.4,57.2 Q197.4,54.8 198.6,54.0 Z" fill="#585858" stroke="#1c1c1c" stroke-width="0.8" stroke-linejoin="round" stroke-linecap="round" />
<line x1="199.6" y1="55.6" x2="278.6" y2="27.6" stroke="#7a7a7a" stroke-width="0.9" stroke-linecap="round"/>
<ellipse cx="199.0" cy="57.0" rx="1.6" ry="2.6" transform="rotate(-15 199.0 57.0)" fill="#8a8a8a" stroke="#1c1c1c" stroke-width="0.6"/>
<path d="M226.7,146.2 L247.8,155.9 L254.7,164.7 L263.5,181.4 L271.0,189.2 L273.5,192.6 L282.2,193.5 L289.5,192.3 L298.8,187.3 L304.7,185.3 L340.0,203.0 L430.0,247.6 L432.4,248.5 L435.8,249.8 L439.7,251.4 L444.0,253.0 L448.2,254.5 L452.0,255.8 L455.5,256.9 L458.9,257.9 L462.3,258.9 L465.6,259.7 L468.9,260.4 L472.3,261.0 L475.7,261.4 L479.1,261.7 L482.5,261.9 L485.9,262.0 L489.2,261.9 L492.5,261.8 L495.7,261.5 L498.9,261.1 L502.0,260.6 L505.0,260.1 L508.0,259.4 L510.8,258.6 L513.5,257.7 L516.2,256.8 L518.7,255.8 L521.1,254.6 L523.4,253.5 L525.5,252.2 L527.4,250.8 L529.2,249.3 L530.8,247.7 L532.3,246.2 L533.6,244.6 L534.7,243.2 L535.6,241.8 L536.2,240.4 L536.7,239.0 L537.0,237.8 L537.3,236.8 L537.5,236.0 L229.8,105.8 L235.7,103.5 L237.6,107.8 L278.8,128.4 L302.2,118.2 L304.8,79.0 L306.4,77.2 L311.7,76.9 L430.0,132.8 L431.5,133.6 L433.7,134.8 L436.2,136.2 L438.9,137.7 L441.6,139.2 L444.0,140.5 L446.2,141.7 L448.4,142.8 L450.6,143.9 L452.7,144.9 L454.9,146.0 L457.0,147.2 L459.1,148.4 L461.2,149.6 L463.4,150.9 L465.4,152.2 L467.4,153.5 L469.4,154.8 L471.3,156.1 L473.1,157.5 L474.9,158.9 L476.7,160.3 L478.3,161.8 L480.0,163.2 L481.6,164.6 L483.1,166.1 L484.6,167.5 L486.1,169.0 L487.5,170.6 L489.0,172.2 L490.5,173.9 L492.0,175.7 L493.5,177.5 L495.0,179.3 L496.5,181.2 L498.0,183.0 L499.5,184.9 L501.0,186.8 L502.5,188.7 L504.0,190.6 L505.5,192.4 L507.0,194.2 L508.5,195.9 L509.9,197.4 L511.3,199.0 L512.8,200.5 L514.4,202.0 L516.0,203.6 L517.8,205.2 L519.7,206.9 L521.8,208.5 L523.7,210.2 L525.7,211.9 L527.4,213.6 L529.0,215.4 L530.6,217.2 L532.1,219.0 L533.4,220.8 L534.6,222.6 L535.6,224.4 L536.3,226.2 L536.9,228.2 L537.2,230.1 L537.5,231.9 L537.6,233.4 L537.8,234.5 Z" fill="#585858" stroke="#1c1c1c" stroke-width="1.0" stroke-linejoin="round" />
<path d="M304.8,79.0 L306.4,77.2 L311.7,76.9 L430.0,132.8 L431.5,133.6 L433.7,134.8 L436.2,136.2 L438.9,137.7 L441.6,139.2 L444.0,140.5 L446.2,141.7 L448.4,142.8 L450.6,143.9 L452.7,144.9 L454.9,146.0 L457.0,147.2 L459.1,148.4 L461.2,149.6 L463.4,150.9 L465.4,152.2 L467.4,153.5 L469.4,154.8 L471.3,156.1 L473.1,157.5 L474.9,158.9 L476.7,160.3 L478.3,161.8 L480.0,163.2 L481.6,164.6 L483.1,166.1 L484.6,167.5 L486.1,169.0 L487.5,170.6 L489.0,172.2 L490.5,173.9 L492.0,175.7 L493.5,177.5 L495.0,179.3 L496.5,181.2 L498.0,183.0 L499.5,184.9 L501.0,186.8 L502.5,188.7 L504.0,190.6 L505.5,192.4 L507.0,194.2 L508.5,195.9 L509.9,197.4 L511.3,199.0 L512.8,200.5 L514.4,202.0 L516.0,203.6 L517.8,205.2 L519.7,206.9 L521.8,208.5 L523.7,210.2 L525.7,211.9 L527.4,213.6 L529.0,215.4 L530.6,217.2 L532.1,219.0 L533.4,220.8 L534.6,222.6 L535.6,224.4 L536.3,226.2 L536.9,228.2 L537.2,230.1 L537.5,231.9 L537.6,233.4 L537.8,234.5 L532.9,239.0 L532.6,238.2 L532.2,237.2 L531.7,235.9 L531.1,234.5 L530.3,233.1 L529.2,231.7 L527.9,230.3 L526.3,228.8 L524.6,227.3 L522.7,225.8 L520.5,224.3 L518.2,222.8 L515.5,221.3 L512.5,219.8 L509.2,218.3 L505.9,216.8 L502.8,215.4 L500.0,214.0 L497.6,212.7 L495.5,211.6 L493.6,210.5 L491.6,209.4 L489.5,208.2 L487.0,206.7 L484.2,205.0 L481.3,203.2 L478.2,201.2 L474.8,199.2 L471.3,197.1 L467.5,194.9 L463.2,192.6 L458.3,190.0 L453.2,187.4 L448.2,184.9 L443.7,182.5 L440.0,180.6 L437.2,179.0 L435.0,177.7 L433.3,176.7 L431.9,175.8 L430.9,175.1 L430.0,174.5 L330.0,129.4 L302.8,117.4 Z" fill="#a6a6a6" stroke="#1c1c1c" stroke-width="0.7" stroke-linejoin="round" />
<path d="M311.7,76.9 L430.0,132.8 L431.5,133.6 L433.7,134.8 L436.2,136.2 L438.9,137.7 L441.6,139.2 L444.0,140.5 L446.2,141.7 L448.4,142.8 L450.6,143.9 L452.7,144.9 L454.9,146.0 L457.0,147.2 L459.1,148.4 L461.2,149.6 L463.4,150.9 L465.4,152.2 L467.4,153.5 L469.4,154.8 L471.3,156.1 L473.1,157.5 L474.9,158.9 L476.7,160.3 L478.3,161.8 L480.0,163.2 L481.6,164.6 L483.1,166.1 L484.6,167.5 L486.1,169.0 L487.5,170.6 L489.0,172.2 L490.5,173.9 L492.0,175.7 L493.5,177.5 L495.0,179.3 L496.5,181.2 L498.0,183.0 L499.5,184.9 L501.0,186.8 L502.5,188.7 L504.0,190.6 L505.5,192.4 L507.0,194.2 L508.5,195.9 L509.9,197.4 L511.3,199.0 L512.8,200.5 L514.4,202.0 L516.0,203.6 L517.8,205.2 L519.7,206.9 L521.8,208.5 L523.7,210.2 L525.7,211.9 L527.4,213.6 L529.0,215.4 L530.6,217.2 L532.1,219.0 L533.4,220.8 L534.6,222.6 L535.6,224.4 L536.3,226.2 L536.9,228.2 L537.2,230.1 L537.5,231.9 L537.6,233.4 L537.8,234.5 L534.6,236.0 L534.4,235.2 L534.3,234.2 L534.0,232.9 L533.7,231.5 L533.2,230.1 L532.4,228.6 L531.4,227.1 L530.2,225.4 L528.8,223.6 L527.3,221.9 L525.7,220.1 L524.0,218.4 L522.2,216.8 L520.2,215.2 L518.0,213.6 L515.9,212.0 L513.9,210.4 L512.0,208.8 L510.4,207.4 L509.1,206.1 L507.9,204.8 L506.6,203.4 L505.0,201.6 L503.0,199.2 L500.5,196.1 L497.7,192.3 L494.6,188.2 L491.4,184.0 L488.2,179.9 L485.0,176.2 L481.9,172.9 L478.9,169.6 L475.8,166.6 L472.6,163.6 L469.4,160.9 L466.0,158.2 L462.4,155.7 L458.6,153.3 L454.7,151.1 L450.9,149.0 L447.2,147.0 L444.0,145.2 L441.0,143.5 L438.2,141.9 L435.6,140.4 L433.3,139.1 L431.4,138.0 L430.0,137.2 L309.8,80.6 Z" fill="#adadad" stroke="#1c1c1c" stroke-width="0.6" stroke-linejoin="round" />
<path d="M304.8,79.0 L306.4,77.2 L311.7,76.9 L311.2,119.4 L302.8,117.4 Z" fill="#b4b4b4" stroke="#1c1c1c" stroke-width="0.7" stroke-linejoin="round" />
<line x1="308.0" y1="78.6" x2="307.2" y2="118.2" stroke="#6e6e6e" stroke-width="0.8" stroke-linecap="round"/>
<line x1="309.8" y1="80.0" x2="309.2" y2="118.6" stroke="#8a8a8a" stroke-width="0.5" stroke-linecap="round"/>
<path d="M345.7,103.9 L430.0,143.6 L431.7,144.6 L434.2,146.0 L437.0,147.6 L440.1,149.4 L443.2,151.1 L446.0,152.6 L448.6,153.9 L451.2,155.0 L453.7,156.0 L456.3,157.2 L458.9,158.6 L461.6,160.4 L464.4,162.6 L467.2,165.0 L470.2,167.8 L473.1,170.7 L476.1,173.9 L479.2,177.3 L482.5,181.3 L486.1,185.8 L489.7,190.6 L493.1,195.3 L496.2,199.4 L498.8,202.7 L500.8,205.0 L502.3,206.7 L503.5,207.8 L504.4,208.6 L505.1,209.2 L505.7,209.8 L500.8,206.2 L499.5,205.7 L497.8,205.1 L495.8,204.3 L493.5,203.3 L491.2,202.1 L489.0,200.6 L486.8,198.7 L484.6,196.4 L482.4,193.9 L480.1,191.2 L477.7,188.5 L475.3,186.0 L472.8,183.5 L470.2,180.9 L467.5,178.3 L464.8,175.8 L462.2,173.5 L459.6,171.4 L457.1,169.6 L454.7,168.0 L452.3,166.6 L449.9,165.3 L447.4,164.0 L445.0,162.6 L442.3,161.0 L439.5,159.4 L436.6,157.7 L433.9,156.2 L431.6,154.8 L430.0,153.9 L353.5,118.6 Z" fill="#595959" stroke="#1c1c1c" stroke-width="0.7" stroke-linejoin="round" />
<path d="M347.6,106.6 L430.0,145.4 L446.0,154.4 L461.0,162.4" fill="none" stroke="#8a8a8a" stroke-width="0.7" stroke-linecap="round" stroke-linejoin="round" />
<path d="M278.8,128.4 L302.2,118.2 L302.8,117.4 L330.0,129.4 L402.6,162.2 L404.2,165.0 L374.8,176.8 L365.0,173.8 L320.0,150.0 Z" fill="#606060" stroke="#1c1c1c" stroke-width="0.7" stroke-linejoin="round" />
<path d="M374.8,176.8 L404.2,165.0 L430.0,174.5 L430.9,175.1 L431.9,175.8 L433.3,176.7 L435.0,177.7 L437.2,179.0 L440.0,180.6 L443.7,182.5 L448.2,184.9 L453.2,187.4 L458.3,190.0 L463.2,192.6 L467.5,194.9 L471.3,197.1 L474.8,199.2 L478.2,201.2 L481.3,203.2 L484.2,205.0 L487.0,206.7 L489.5,208.2 L491.6,209.4 L493.6,210.5 L495.5,211.6 L497.6,212.7 L500.0,214.0 L502.8,215.4 L505.9,216.8 L509.2,218.3 L512.5,219.8 L515.5,221.3 L518.2,222.8 L520.5,224.3 L522.7,225.8 L524.6,227.3 L526.3,228.8 L527.9,230.3 L529.2,231.7 L530.3,233.1 L531.1,234.5 L531.7,235.9 L532.2,237.2 L532.6,238.2 L532.9,239.0 L532.9,240.0 L531.2,241.0 L528.8,242.3 L526.0,243.9 L522.8,245.6 L519.6,247.1 L516.3,248.3 L512.9,249.2 L509.4,250.1 L505.6,250.8 L501.8,251.4 L498.0,251.8 L494.3,252.0 L490.7,252.1 L487.0,252.1 L483.4,251.9 L479.8,251.5 L476.1,250.9 L472.3,250.1 L468.3,249.0 L464.0,247.5 L459.7,245.8 L455.5,244.1 L451.7,242.4 L448.4,240.9 L445.8,239.7 L443.6,238.6 L441.8,237.5 L440.2,236.5 L438.6,235.3 L437.0,234.0 L435.2,232.4 L433.4,230.5 L431.6,228.5 L430.0,226.6 L428.7,224.9 L427.7,223.8 L414.0,210.0 L390.5,188.5 L376.8,177.7 Z" fill="#686868" stroke="#1c1c1c" stroke-width="0.7" stroke-linejoin="round" />
<path d="M374.8,176.8 L404.2,165.0 L405.6,167.6 L377.2,179.6 Z" fill="#3c3c3c" stroke="#1c1c1c" stroke-width="0.4" stroke-linejoin="round" />
<path d="M408.0,185.0 L410.4,183.6 L445.0,201.6 Q447.4,203.8 445.6,205.2 Q443.4,205.8 441.0,204.2 L407.0,186.8 Z" fill="#a6a6a6" stroke="#1c1c1c" stroke-width="0.6" stroke-linejoin="round" stroke-linecap="round" />
<path d="M402.0,196.8 L404.4,195.4 L436.6,213.4 Q438.8,215.6 437.0,217.0 Q434.8,217.6 432.6,216.0 L401.0,198.6 Z" fill="#a6a6a6" stroke="#1c1c1c" stroke-width="0.6" stroke-linejoin="round" stroke-linecap="round" />
<path d="M421.6,179.8 L420.5,182.1 L418.3,182.1 L417.2,179.8 L418.3,177.5 L420.5,177.5 Z" fill="#3c3c3c" stroke="#161616" stroke-width="0.8" stroke-linejoin="round" />
<path d="M419.7,180.3 L418.6,182.6 L416.4,182.6 L415.3,180.3 L416.4,178.0 L418.6,178.0 Z" fill="#8d8d8d" stroke="#161616" stroke-width="0.8" stroke-linejoin="round" />
<ellipse cx="417.5" cy="180.3" rx="1.2" ry="1.4" transform="rotate(0 417.5 180.3)" fill="#b0b0b0" stroke="#1c1c1c" stroke-width="0.6"/>
<ellipse cx="417.7" cy="180.3" rx="0.7" ry="0.8" transform="rotate(0 417.7 180.3)" fill="#555" stroke="none" stroke-width="0"/>
<path d="M446.6,229.0 Q453,223.4 467,222.6 L507.4,229.0 Q520.6,236.4 518.4,243.6 Q512,249.6 497,250.4 L470,250.4 Q452,243.6 446.6,229.0 Z" fill="#3f3f3f" stroke="#1c1c1c" stroke-width="0.7" stroke-linejoin="round" stroke-linecap="round" />
<path d="M449.6,230.0 Q455,225.4 467,224.8 L506.4,231.0 Q517.6,237.4 516.0,242.6 Q510,247.6 497,248.6 L471,248.6 Q455,242.6 449.6,230.0 Z" fill="none" stroke="#8a8a8a" stroke-width="1.3" stroke-linejoin="round" stroke-linecap="round" stroke-dasharray="1.1 1.1"/>
<path d="M453.0,231.7 L461.2,229.9 L503.5,234.5 L516.3,240.0 L510.8,245.5 L498.0,248.3 L472.3,248.3 L459.4,244.6 Z" fill="#b4b4b4" stroke="#1c1c1c" stroke-width="0.8" stroke-linejoin="round" />
<ellipse cx="481.4" cy="242.2" rx="15.6" ry="6.5" transform="rotate(1 481.4 242.2)" fill="#bee6ef" stroke="#1c1c1c" stroke-width="1.0"/>
<ellipse cx="461.0" cy="233.6" rx="1.8" ry="1.2" transform="rotate(0 461.0 233.6)" fill="#6a6a6a" stroke="#1c1c1c" stroke-width="0.5"/>
<ellipse cx="508.4" cy="242.4" rx="1.8" ry="1.2" transform="rotate(0 508.4 242.4)" fill="#6a6a6a" stroke="#1c1c1c" stroke-width="0.5"/>
<path d="M510.3,223.0 L509.2,225.3 L507.0,225.3 L505.9,223.0 L507.0,220.7 L509.2,220.7 Z" fill="#3c3c3c" stroke="#161616" stroke-width="0.8" stroke-linejoin="round" />
<path d="M508.4,223.5 L507.3,225.8 L505.1,225.8 L504.0,223.5 L505.1,221.2 L507.3,221.2 Z" fill="#8a8a8a" stroke="#161616" stroke-width="0.8" stroke-linejoin="round" />
<ellipse cx="506.2" cy="223.5" rx="1.2" ry="1.4" transform="rotate(0 506.2 223.5)" fill="#b0b0b0" stroke="#1c1c1c" stroke-width="0.6"/>
<ellipse cx="506.4" cy="223.5" rx="0.7" ry="0.8" transform="rotate(0 506.4 223.5)" fill="#555" stroke="none" stroke-width="0"/>
<path d="M226.7,146.2 L229.8,105.8 L235.7,103.5 L237.6,107.8 L278.8,128.4 L320.0,150.0 L365.0,173.8 L376.8,177.7 L379.0,179.4 L382.2,181.8 L386.1,184.8 L390.5,188.5 L396.2,193.6 L403.1,199.9 L409.5,205.9 L414.0,210.0 L427.7,223.8 L428.7,224.9 L430.0,226.6 L431.6,228.5 L433.4,230.5 L435.2,232.4 L437.0,234.0 L438.6,235.3 L440.2,236.5 L441.8,237.5 L443.6,238.6 L445.8,239.7 L448.4,240.9 L451.7,242.4 L455.5,244.1 L459.7,245.8 L464.0,247.5 L468.3,249.0 L472.3,250.1 L476.1,250.9 L479.8,251.5 L483.4,251.9 L487.0,252.1 L490.7,252.1 L494.3,252.0 L498.0,251.8 L501.8,251.4 L505.6,250.8 L509.4,250.1 L512.9,249.2 L516.3,248.3 L519.6,247.1 L522.8,245.6 L526.0,243.9 L528.8,242.3 L531.2,241.0 L532.9,240.0 L537.5,236.0 L537.3,236.8 L537.0,237.8 L536.7,239.0 L536.2,240.4 L535.6,241.8 L534.7,243.2 L533.6,244.6 L532.3,246.2 L530.8,247.7 L529.2,249.3 L527.4,250.8 L525.5,252.2 L523.4,253.5 L521.1,254.6 L518.7,255.8 L516.2,256.8 L513.5,257.7 L510.8,258.6 L508.0,259.4 L505.0,260.1 L502.0,260.6 L498.9,261.1 L495.7,261.5 L492.5,261.8 L489.2,261.9 L485.9,262.0 L482.5,261.9 L479.1,261.7 L475.7,261.4 L472.3,261.0 L468.9,260.4 L465.6,259.7 L462.3,258.9 L458.9,257.9 L455.5,256.9 L452.0,255.8 L448.2,254.5 L444.0,253.0 L439.7,251.4 L435.8,249.8 L432.4,248.5 L430.0,247.6 L340.0,203.0 L304.7,185.3 L298.8,187.3 L289.5,192.3 L282.2,193.5 L273.5,192.6 L271.0,189.2 L263.5,181.4 L254.7,164.7 L247.8,155.9 Z" fill="#595959" stroke="#1c1c1c" stroke-width="0.9" stroke-linejoin="round" />
<path d="M229.8,105.8 L235.7,103.5 L237.6,107.8 L231.6,109.6 Z" fill="#777" stroke="#1c1c1c" stroke-width="0.5" stroke-linejoin="round" />
<path d="M236.4,110.4 L364.0,176.4 L375.6,180.4 L388.6,191.0 L412.0,212.6 L425.6,226.4" fill="none" stroke="#2a2a2a" stroke-width="0.6" stroke-linecap="round" stroke-linejoin="round" />
<path d="M264.0,134.3 L365.0,183.9 L376.8,189.0 L416.0,229.7 L421.9,238.5 L410.0,232.6 L378.4,199.4 L365.0,193.7 L272.0,148.0 Z" fill="#a9a9a9" stroke="#1c1c1c" stroke-width="0.7" stroke-linejoin="round" />
<path d="M266.8,139.6 L365.0,187.8 L376.4,192.6 L414.0,231.0 L421.9,238.5 L410.0,232.6 L378.4,199.4 L365.0,193.7 L272.0,148.0 Z" fill="#8c8c8c" stroke="none" stroke-width="0" stroke-linejoin="round" />
<path d="M264.0,134.3 L365.0,183.9 L376.8,189.0 L416.0,229.7 L421.9,238.5" fill="none" stroke="#1c1c1c" stroke-width="0.9" stroke-linecap="round" stroke-linejoin="round" />
<path d="M306.0,183.6 L340.0,200.6 L430.0,245.0 L452.0,253.2 L472.3,258.4 L492.5,259.2 L510.8,256.0 L525.5,249.8 L534.0,241.6" fill="none" stroke="#8a8a8a" stroke-width="0.7" stroke-linecap="round" stroke-linejoin="round" />
<path d="M273.8,192.0 L282.2,192.8 L289.5,191.6 L298.8,186.6 L303.6,185.0 L302.0,183.6 L297.0,184.6 L288.6,189.4 L282.0,190.6 L274.0,189.8 Z" fill="#8a8a8a" stroke="#1c1c1c" stroke-width="0.5" stroke-linejoin="round" />
<ellipse cx="238.6" cy="132.3" rx="1.8" ry="2.2" transform="rotate(0 238.6 132.3)" fill="#6a6a6a" stroke="#1c1c1c" stroke-width="0.6"/>
<ellipse cx="238.9" cy="132.3" rx="0.8" ry="1.1" transform="rotate(0 238.9 132.3)" fill="#2a2a2a" stroke="none" stroke-width="0"/>
<ellipse cx="254.3" cy="151.9" rx="1.8" ry="2.2" transform="rotate(0 254.3 151.9)" fill="#6a6a6a" stroke="#1c1c1c" stroke-width="0.6"/>
<ellipse cx="254.6" cy="151.9" rx="0.8" ry="1.1" transform="rotate(0 254.6 151.9)" fill="#2a2a2a" stroke="none" stroke-width="0"/>
<ellipse cx="319.4" cy="102.8" rx="3.0" ry="3.3" transform="rotate(0 319.4 102.8)" fill="#b4b4b4" stroke="#1c1c1c" stroke-width="0.7"/>
<ellipse cx="319.4" cy="102.8" rx="1.5" ry="1.7" transform="rotate(0 319.4 102.8)" fill="#8a8a8a" stroke="#1c1c1c" stroke-width="0.5"/>
<ellipse cx="335.6" cy="122.8" rx="3.0" ry="3.3" transform="rotate(0 335.6 122.8)" fill="#b4b4b4" stroke="#1c1c1c" stroke-width="0.7"/>
<ellipse cx="335.6" cy="122.8" rx="1.5" ry="1.7" transform="rotate(0 335.6 122.8)" fill="#8a8a8a" stroke="#1c1c1c" stroke-width="0.5"/>
<path d="M309.9,104.7 L308.9,106.7 L306.9,106.7 L305.9,104.7 L306.9,102.7 L308.9,102.7 Z" fill="#3c3c3c" stroke="#161616" stroke-width="0.8" stroke-linejoin="round" />
<path d="M308.0,105.2 L307.0,107.2 L305.0,107.2 L304.0,105.2 L305.0,103.2 L307.0,103.2 Z" fill="#8a8a8a" stroke="#161616" stroke-width="0.8" stroke-linejoin="round" />
<ellipse cx="306.0" cy="105.2" rx="1.1" ry="1.3" transform="rotate(0 306.0 105.2)" fill="#b0b0b0" stroke="#1c1c1c" stroke-width="0.6"/>
<ellipse cx="306.2" cy="105.2" rx="0.6" ry="0.7" transform="rotate(0 306.2 105.2)" fill="#555" stroke="none" stroke-width="0"/>
<ellipse cx="427.8" cy="138.6" rx="3.0" ry="2.6" transform="rotate(0 427.8 138.6)" fill="#8e8e8e" stroke="#1c1c1c" stroke-width="0.8"/>
<ellipse cx="427.8" cy="138.6" rx="1.5" ry="1.3" transform="rotate(0 427.8 138.6)" fill="#555" stroke="#1c1c1c" stroke-width="0.5"/>
<ellipse cx="436.7" cy="142.6" rx="3.0" ry="2.6" transform="rotate(0 436.7 142.6)" fill="#8e8e8e" stroke="#1c1c1c" stroke-width="0.8"/>
<ellipse cx="436.7" cy="142.6" rx="1.5" ry="1.3" transform="rotate(0 436.7 142.6)" fill="#555" stroke="#1c1c1c" stroke-width="0.5"/>
<path d="M348.20000000000005,169.1 Q347.20000000000005,163.89999999999998 351.0,164.7" fill="none" stroke="#1c1c1c" stroke-width="1.0" stroke-linejoin="round" stroke-linecap="round" />
<path d="M356.1,173.0 Q355.1,167.79999999999998 358.9,168.6" fill="none" stroke="#1c1c1c" stroke-width="1.0" stroke-linejoin="round" stroke-linecap="round" />
<path d="M428.4,226.3 L427.6,228.0 L425.8,228.0 L425.0,226.3 L425.8,224.6 L427.6,224.6 Z" fill="#3c3c3c" stroke="#161616" stroke-width="0.8" stroke-linejoin="round" />
<path d="M426.5,226.8 L425.7,228.5 L423.9,228.5 L423.1,226.8 L423.9,225.1 L425.7,225.1 Z" fill="#666" stroke="#161616" stroke-width="0.8" stroke-linejoin="round" />
<ellipse cx="424.8" cy="226.8" rx="1.0" ry="1.1" transform="rotate(0 424.8 226.8)" fill="#b0b0b0" stroke="#1c1c1c" stroke-width="0.6"/>
<ellipse cx="425.0" cy="226.8" rx="0.5" ry="0.6" transform="rotate(0 425.0 226.8)" fill="#555" stroke="none" stroke-width="0"/>
<ellipse cx="502.7" cy="198.4" rx="2.3" ry="2.0" transform="rotate(0 502.7 198.4)" fill="#8a8a8a" stroke="#1c1c1c" stroke-width="0.7"/>
<ellipse cx="502.7" cy="198.4" rx="1.0" ry="0.9" transform="rotate(0 502.7 198.4)" fill="#444" stroke="none" stroke-width="0"/>
<line x1="228.4" y1="108.0" x2="225.6" y2="145.4" stroke="#777" stroke-width="0.6" stroke-linecap="round"/>
<ellipse cx="269.6" cy="172.4" rx="1.4" ry="3.0" transform="rotate(-18.30561319719914 269.6 172.4)" fill="#8e8e8e" stroke="#1c1c1c" stroke-width="0.7"/>
<path d="M243.9,184.0 L270.5,175.2 L268.7,169.6 L242.1,178.4 Z" fill="#8e8e8e" stroke="#1c1c1c" stroke-width="0.7" stroke-linejoin="round" />
<ellipse cx="269.6" cy="172.4" rx="1.2" ry="2.6" transform="rotate(-18.30561319719914 269.6 172.4)" fill="#8e8e8e" stroke="none" stroke-width="0"/>
<ellipse cx="243.0" cy="181.2" rx="1.4" ry="3.0" transform="rotate(-18.30561319719914 243.0 181.2)" fill="#a8a8a8" stroke="#1c1c1c" stroke-width="0.7"/>
<ellipse cx="243.6" cy="181.0" rx="0.9" ry="2.1" transform="rotate(-19.653824058053328 243.6 181.0)" fill="#8a8a8a" stroke="#1c1c1c" stroke-width="0.7"/>
<path d="M238.7,185.0 L244.3,183.0 L242.9,179.0 L237.3,181.0 Z" fill="#8a8a8a" stroke="#1c1c1c" stroke-width="0.7" stroke-linejoin="round" />
<ellipse cx="243.6" cy="181.0" rx="0.7" ry="1.7" transform="rotate(-19.653824058053328 243.6 181.0)" fill="#8a8a8a" stroke="none" stroke-width="0"/>
<ellipse cx="238.0" cy="183.0" rx="0.9" ry="2.1" transform="rotate(-19.653824058053328 238.0 183.0)" fill="#b0b0b0" stroke="#1c1c1c" stroke-width="0.7"/>
<ellipse cx="231.6" cy="187.0" rx="3.3" ry="6.0" transform="rotate(-16.101302399158406 231.6 187.0)" fill="#4f4f4f" stroke="#1c1c1c" stroke-width="0.8"/>
<path d="M213.9,198.4 L233.3,192.8 L229.9,181.2 L210.5,186.8 Z" fill="#4f4f4f" stroke="#1c1c1c" stroke-width="0.8" stroke-linejoin="round" />
<ellipse cx="231.6" cy="187.0" rx="3.1" ry="5.6" transform="rotate(-16.101302399158406 231.6 187.0)" fill="#4f4f4f" stroke="none" stroke-width="0"/>
<ellipse cx="212.2" cy="192.6" rx="3.3" ry="6.0" transform="rotate(-16.101302399158406 212.2 192.6)" fill="#9a9a9a" stroke="#1c1c1c" stroke-width="0.8"/>
<ellipse cx="212.4" cy="192.6" rx="1.9" ry="3.4" transform="rotate(-16 212.4 192.6)" fill="#777" stroke="#1c1c1c" stroke-width="0.6"/>
<line x1="214.5" y1="188.4" x2="230.5" y2="183.8" stroke="#6e6e6e" stroke-width="0.8" stroke-linecap="round"/>
<ellipse cx="450.4" cy="116.0" rx="3.2" ry="5.8" transform="rotate(-17.55354482633991 450.4 116.0)" fill="#505050" stroke="#1c1c1c" stroke-width="0.8"/>
<path d="M432.5,127.7 L452.1,121.5 L448.7,110.5 L429.1,116.7 Z" fill="#505050" stroke="#1c1c1c" stroke-width="0.8" stroke-linejoin="round" />
<ellipse cx="450.4" cy="116.0" rx="3.0" ry="5.4" transform="rotate(-17.55354482633991 450.4 116.0)" fill="#505050" stroke="none" stroke-width="0"/>
<ellipse cx="430.8" cy="122.2" rx="3.2" ry="5.8" transform="rotate(-17.55354482633991 430.8 122.2)" fill="#9a9a9a" stroke="#1c1c1c" stroke-width="0.8"/>
<ellipse cx="431.0" cy="122.2" rx="1.9" ry="3.3" transform="rotate(-17 431.0 122.2)" fill="#555" stroke="#1c1c1c" stroke-width="0.6"/>
<line x1="433.0" y1="117.8" x2="450.0" y2="112.4" stroke="#777" stroke-width="0.8" stroke-linecap="round"/>
<path d="M354,303.8 Q345,303.0 337,306.4 Q326,313.0 320.6,328 Q316.8,342 314.3,370 L319.8,370.6 Q321.6,346 325.6,332 Q330,320 338.6,316.4 L347.4,311.5 Z" fill="#8c8c8c" stroke="#1c1c1c" stroke-width="0.8" stroke-linejoin="round" stroke-linecap="round" />
<path d="M347.4,311.5 L338.6,316.4 Q330,320 325.6,332 Q321.6,346 319.8,370.6 L323.0,369.6 Q324.4,349 328.6,336 Q332.6,325.6 342,322 L350,318 Z" fill="#4a4a4a" stroke="#1c1c1c" stroke-width="0.7" stroke-linejoin="round" stroke-linecap="round" />
<path d="M350.6,305.8 L340.0,308.8 L329.6,317.4 L323.2,330.2 L319.8,345.0 L317.4,368.0" fill="none" stroke="#5a5a5a" stroke-width="0.6" stroke-linecap="round" stroke-linejoin="round" />
<path d="M328.6,336.0 L341.8,332.5 L343.0,341.5 L331.0,346.5 Z" fill="#a5a5a5" stroke="#1c1c1c" stroke-width="0.6" stroke-linejoin="round" />
<path d="M327.4,340.0 L331.0,346.5 L329.6,353.0 L325.6,352.0 Z" fill="#7a7a7a" stroke="#1c1c1c" stroke-width="0.5" stroke-linejoin="round" />
<path d="M341.8,332.5 L400.0,342.0 L441.9,354.1 L472.8,361.8 L488.2,363.2 L505.9,362.9 L523.5,359.6 L536.8,354.1 L542.3,345.3 L541.0,341.0 L530.0,350.0 L505.0,357.6 L470.0,358.6 L440.0,350.4 L400.0,337.6 L350.0,318.0 Z" fill="#7d7d7d" stroke="#1c1c1c" stroke-width="0.6" stroke-linejoin="round" />
<path d="M400.0,342.0 L441.9,354.1 L472.8,361.8 L488.2,363.2 L472.8,365.1 L453.0,367.4 L447.4,364.2 L400.0,347.6 L341.8,332.5 Z" fill="#b6b6b6" stroke="#1c1c1c" stroke-width="0.7" stroke-linejoin="round" />
<path d="M542.0,341.6 L543.0,345.6 L537.2,354.4 L523.8,360.0 L505.9,363.2 L488.2,364.4 L472.8,365.2 L453.0,367.4 L447.4,364.2 L441.9,351.6 L472.8,358.6 L488.0,359.6 L505.4,358.6 L522.5,355.4 L533.0,351.4 L539.6,346.4 Z" fill="#7a7a7a" stroke="#1c1c1c" stroke-width="0.8" stroke-linejoin="round" />
<path d="M447.0,361.6 L472.8,362.6 L488.2,362.2 L505.9,361.0 L523.0,357.8 L535.4,352.4 L541.4,345.4" fill="none" stroke="#b0b0b0" stroke-width="0.8" stroke-linecap="round" stroke-linejoin="round" />
<path d="M337.4,305.2 L349.1,300.6 L362.8,294.6 L371.2,290.4 L393.2,282.0 L420.0,276.0 L431.9,271.6 L443.8,270.2 L458.0,269.6 L484.2,274.0 L498.4,288.3 L512.7,303.7 L524.6,314.4 L530.2,321.6 L539.0,333.4 L542.0,341.6 L539.6,346.4 L533.0,351.4 L522.5,355.4 L505.4,358.6 L488.0,359.6 L472.8,358.6 L441.9,351.6 L400.0,339.4 L350.0,318.4 L345.4,314.6 Z" fill="#595959" stroke="#1c1c1c" stroke-width="0.9" stroke-linejoin="round" />
<path d="M345.4,308.4 L347.4,307.6 L410.0,331.8 L452.0,351.0 L450.0,353.0 L410.0,336.0 L345.1,312.6 Z" fill="#8f8f8f" stroke="#1c1c1c" stroke-width="0.5" stroke-linejoin="round" />
<path d="M345.1,312.6 L410.0,336.0 L450.0,353.0 L446.0,354.0 L400.0,339.4 L350.0,318.4 Z" fill="#3c3c3c" stroke="#1c1c1c" stroke-width="0.4" stroke-linejoin="round" />
<path d="M352.0,311.6 L410.0,333.8 L448.0,351.0" fill="none" stroke="#c0c0c0" stroke-width="0.6" stroke-linecap="round" stroke-linejoin="round" />
<path d="M392.0,333.0 L440.0,350.6" fill="none" stroke="#9a9a9a" stroke-width="1.6" stroke-linecap="round" stroke-linejoin="round" stroke-dasharray="0.9 0.9"/>
<path d="M436.0,271.6 L458.0,269.6 L484.2,274.0 L498.4,288.3 L512.7,303.7 L508.2,304.4 L498.4,301.3 L448.5,274.4 Z" fill="#3a3a3a" stroke="#1c1c1c" stroke-width="0.7" stroke-linejoin="round" />
<path d="M448.5,274.2 L458.2,272.8 L503.2,295.4 L508.0,303.6 L498.4,301.0 Z" fill="#b2b2b2" stroke="#1c1c1c" stroke-width="0.7" stroke-linejoin="round" />
<path d="M458.2,272.8 L466.0,270.8 L484.2,274.0 L498.4,288.3 L510.8,301.6 L508.0,303.6 L503.2,295.4 Z" fill="#5c5c5c" stroke="#1c1c1c" stroke-width="0.6" stroke-linejoin="round" />
<path d="M451.8,329.9 Q453.4,325.0 461.0,323.2 Q470,321.6 486,323.8 L516,330.0 Q530,333.6 533.2,338.4 Q534.4,343.2 528.4,346.6 Q514,352.6 497.1,355.2 Q484,357.4 475.0,356.0 Q467.4,353.6 463.0,347.4 Z" fill="#2c2c2c" stroke="#1c1c1c" stroke-width="0.8" stroke-linejoin="round" stroke-linecap="round" />
<path d="M453.8,330.5 Q455.4,326.6 462.0,325.0 Q470,323.6 486,325.8 L515,331.8 Q528,335.2 531.0,339.0 Q531.8,342.4 526.6,345.2 Q513,350.8 496.6,353.4 Q484,355.4 476.0,354.2 Q469.4,352.0 465.0,346.4 Z" fill="#bee6ef" stroke="#a0a0a0" stroke-width="0.7" stroke-linejoin="round" stroke-linecap="round" />
<ellipse cx="355.4" cy="303.4" rx="1.3" ry="1.0" transform="rotate(0 355.4 303.4)" fill="#777" stroke="#1c1c1c" stroke-width="0.5"/>
<ellipse cx="366.6" cy="303.0" rx="1.3" ry="1.0" transform="rotate(0 366.6 303.0)" fill="#777" stroke="#1c1c1c" stroke-width="0.5"/>
<ellipse cx="424.4" cy="280.6" rx="1.3" ry="1.0" transform="rotate(0 424.4 280.6)" fill="#777" stroke="#1c1c1c" stroke-width="0.5"/>
<ellipse cx="456.4" cy="350.4" rx="1.3" ry="1.0" transform="rotate(0 456.4 350.4)" fill="#777" stroke="#1c1c1c" stroke-width="0.5"/>
<ellipse cx="505.6" cy="320.8" rx="1.3" ry="1.0" transform="rotate(0 505.6 320.8)" fill="#777" stroke="#1c1c1c" stroke-width="0.5"/>
<ellipse cx="525.2" cy="348.0" rx="1.3" ry="1.0" transform="rotate(0 525.2 348.0)" fill="#777" stroke="#1c1c1c" stroke-width="0.5"/>
<ellipse cx="497.0" cy="358.0" rx="1.3" ry="1.0" transform="rotate(0 497.0 358.0)" fill="#777" stroke="#1c1c1c" stroke-width="0.5"/>
<path d="M87.6,389.6 L100.4,383.8 L137.4,372.4 L137.0,379.6 L100.6,400.6 Q97.4,402.6 94.0,400.6 L89.0,396.8 Q86.4,393.0 87.6,389.6 Z" fill="#585858" stroke="#1c1c1c" stroke-width="0.8" stroke-linejoin="round" stroke-linecap="round" />
<path d="M101.0,400.0 L101.4,384.0 Q102.4,374.0 108.7,369.8 Q113,366.6 117.5,363.2 L133.0,353.3 L148.4,344.5 L157.0,348.0 L133.0,368.6 L137.4,370.6 L137.0,380.4 Z" fill="#b3b3b3" stroke="#1c1c1c" stroke-width="0.8" stroke-linejoin="round" stroke-linecap="round" />
<path d="M108.7,369.8 L133.0,353.3 L148.4,344.5 L157.0,348.0 L133.0,368.6 Q127,364.4 119.0,366.6 Z" fill="#686868" stroke="#1c1c1c" stroke-width="0.5" stroke-linejoin="round" stroke-linecap="round" />
<path d="M101.4,384.0 Q102.4,374.0 108.7,369.8 L119.0,366.6 Q127,364.4 133.0,368.6 L137.4,370.6 L137.0,380.4 L101.0,400.0 Z" fill="#b6b6b6" stroke="#1c1c1c" stroke-width="0.6" stroke-linejoin="round" stroke-linecap="round" />
<path d="M104.0,397.6 L136.0,378.4" fill="none" stroke="#8a8a8a" stroke-width="0.7" stroke-linecap="round" stroke-linejoin="round" />
<path d="M148.4,344.5 Q150.6,343.2 153.4,343.2 L159.4,343.4 L279.2,382.0 Q281.0,383.6 280.3,385.3 L258.2,388.2 L209.7,393.0 Q205.8,393.4 203.6,392.0 L133.0,368.6 Z" fill="#5a5a5a" stroke="#1c1c1c" stroke-width="0.9" stroke-linejoin="round" stroke-linecap="round" />
<path d="M153.0,343.4 L159.4,343.4 L279.2,382.0 L280.0,384.4 L273.7,385.8 L170.0,353.4 L152.0,348.2 L149.0,344.8 Z" fill="#b8b8b8" stroke="#1c1c1c" stroke-width="0.5" stroke-linejoin="round" />
<ellipse cx="177.6" cy="347.6" rx="1.2" ry="0.8" transform="rotate(15 177.6 347.6)" fill="#444" stroke="none" stroke-width="0"/>
<ellipse cx="221.6" cy="362.4" rx="1.2" ry="0.8" transform="rotate(15 221.6 362.4)" fill="#444" stroke="none" stroke-width="0"/>
<ellipse cx="267.6" cy="377.8" rx="1.2" ry="0.8" transform="rotate(15 267.6 377.8)" fill="#444" stroke="none" stroke-width="0"/>
<path d="M133.4,370.0 L203.4,393.2 L209.7,394.2 L258.2,389.6 L280.0,386.6" fill="none" stroke="#2a2a2a" stroke-width="0.8" stroke-linecap="round" stroke-linejoin="round" />
<path d="M176.9,327.1 L179.9,327.1 L179.6,343.1 L177.2,343.1 Z" fill="#585858" stroke="#1c1c1c" stroke-width="0.7" stroke-linejoin="round" />
<line x1="176.9" y1="331.6" x2="179.9" y2="332.2" stroke="#1c1c1c" stroke-width="0.5" stroke-linecap="round"/>
<line x1="176.9" y1="333.8" x2="179.9" y2="334.4" stroke="#1c1c1c" stroke-width="0.5" stroke-linecap="round"/>
<line x1="176.9" y1="336.0" x2="179.9" y2="336.6" stroke="#1c1c1c" stroke-width="0.5" stroke-linecap="round"/>
<line x1="176.9" y1="338.2" x2="179.9" y2="338.8" stroke="#1c1c1c" stroke-width="0.5" stroke-linecap="round"/>
<line x1="176.9" y1="340.4" x2="179.9" y2="341.0" stroke="#1c1c1c" stroke-width="0.5" stroke-linecap="round"/>
<ellipse cx="178.4" cy="328.2" rx="4.0" ry="1.5" transform="rotate(0 178.4 328.2)" fill="#5a5a5a" stroke="#1c1c1c" stroke-width="0.7"/>
<path d="M175.6,323.0 L181.2,323.0 L181.6,327.4 L175.2,327.4 Z" fill="#444" stroke="#1c1c1c" stroke-width="0.7" stroke-linejoin="round" />
<ellipse cx="178.4" cy="323.0" rx="2.8" ry="1.2" transform="rotate(0 178.4 323.0)" fill="#707070" stroke="#1c1c1c" stroke-width="0.6"/>
<path d="M221.5,342.7 L224.5,342.7 L224.2,358.7 L221.8,358.7 Z" fill="#585858" stroke="#1c1c1c" stroke-width="0.7" stroke-linejoin="round" />
<line x1="221.5" y1="347.2" x2="224.5" y2="347.8" stroke="#1c1c1c" stroke-width="0.5" stroke-linecap="round"/>
<line x1="221.5" y1="349.4" x2="224.5" y2="350.0" stroke="#1c1c1c" stroke-width="0.5" stroke-linecap="round"/>
<line x1="221.5" y1="351.6" x2="224.5" y2="352.2" stroke="#1c1c1c" stroke-width="0.5" stroke-linecap="round"/>
<line x1="221.5" y1="353.8" x2="224.5" y2="354.4" stroke="#1c1c1c" stroke-width="0.5" stroke-linecap="round"/>
<line x1="221.5" y1="356.0" x2="224.5" y2="356.6" stroke="#1c1c1c" stroke-width="0.5" stroke-linecap="round"/>
<ellipse cx="223.0" cy="343.8" rx="4.0" ry="1.5" transform="rotate(0 223.0 343.8)" fill="#5a5a5a" stroke="#1c1c1c" stroke-width="0.7"/>
<path d="M220.2,338.6 L225.8,338.6 L226.2,343.0 L219.8,343.0 Z" fill="#444" stroke="#1c1c1c" stroke-width="0.7" stroke-linejoin="round" />
<ellipse cx="223.0" cy="338.6" rx="2.8" ry="1.2" transform="rotate(0 223.0 338.6)" fill="#707070" stroke="#1c1c1c" stroke-width="0.6"/>
<path d="M268.2,356.9 L271.2,356.9 L270.9,372.9 L268.5,372.9 Z" fill="#585858" stroke="#1c1c1c" stroke-width="0.7" stroke-linejoin="round" />
<line x1="268.2" y1="361.4" x2="271.2" y2="362.0" stroke="#1c1c1c" stroke-width="0.5" stroke-linecap="round"/>
<line x1="268.2" y1="363.6" x2="271.2" y2="364.2" stroke="#1c1c1c" stroke-width="0.5" stroke-linecap="round"/>
<line x1="268.2" y1="365.8" x2="271.2" y2="366.4" stroke="#1c1c1c" stroke-width="0.5" stroke-linecap="round"/>
<line x1="268.2" y1="368.0" x2="271.2" y2="368.6" stroke="#1c1c1c" stroke-width="0.5" stroke-linecap="round"/>
<line x1="268.2" y1="370.2" x2="271.2" y2="370.8" stroke="#1c1c1c" stroke-width="0.5" stroke-linecap="round"/>
<ellipse cx="269.7" cy="358.0" rx="4.0" ry="1.5" transform="rotate(0 269.7 358.0)" fill="#5a5a5a" stroke="#1c1c1c" stroke-width="0.7"/>
<path d="M266.9,352.8 L272.5,352.8 L272.9,357.2 L266.5,357.2 Z" fill="#444" stroke="#1c1c1c" stroke-width="0.7" stroke-linejoin="round" />
<ellipse cx="269.7" cy="352.8" rx="2.8" ry="1.2" transform="rotate(0 269.7 352.8)" fill="#707070" stroke="#1c1c1c" stroke-width="0.6"/>
<path d="M372.3,349.1 L375.3,349.1 L375.3,353.6 L372.3,353.6 Z" fill="#606060" stroke="#1c1c1c" stroke-width="0.7" stroke-linejoin="round" />
<ellipse cx="373.8" cy="349.1" rx="1.5" ry="0.7" transform="rotate(0 373.8 349.1)" fill="#8a8a8a" stroke="#1c1c1c" stroke-width="0.5"/>
<ellipse cx="373.8" cy="354.0" rx="3.6" ry="1.6" transform="rotate(0 373.8 354.0)" fill="#5c5c5c" stroke="#1c1c1c" stroke-width="0.7"/>
<path d="M371.0,354.4 L376.6,354.4 L376.4,358.2 L371.2,358.2 Z" fill="#3f3f3f" stroke="#1c1c1c" stroke-width="0.7" stroke-linejoin="round" />
<line x1="373.2" y1="354.6" x2="373.2" y2="358.0" stroke="#1c1c1c" stroke-width="0.5" stroke-linecap="round"/>
<path d="M403.1,359.9 L406.1,359.9 L406.1,364.4 L403.1,364.4 Z" fill="#606060" stroke="#1c1c1c" stroke-width="0.7" stroke-linejoin="round" />
<ellipse cx="404.6" cy="359.9" rx="1.5" ry="0.7" transform="rotate(0 404.6 359.9)" fill="#8a8a8a" stroke="#1c1c1c" stroke-width="0.5"/>
<ellipse cx="404.6" cy="364.8" rx="3.6" ry="1.6" transform="rotate(0 404.6 364.8)" fill="#5c5c5c" stroke="#1c1c1c" stroke-width="0.7"/>
<path d="M401.8,365.2 L407.4,365.2 L407.2,369.0 L402.0,369.0 Z" fill="#3f3f3f" stroke="#1c1c1c" stroke-width="0.7" stroke-linejoin="round" />
<line x1="404.0" y1="365.4" x2="404.0" y2="368.8" stroke="#1c1c1c" stroke-width="0.5" stroke-linecap="round"/>
<path d="M443.3,373.9 L446.3,373.9 L446.3,378.4 L443.3,378.4 Z" fill="#606060" stroke="#1c1c1c" stroke-width="0.7" stroke-linejoin="round" />
<ellipse cx="444.8" cy="373.9" rx="1.5" ry="0.7" transform="rotate(0 444.8 373.9)" fill="#8a8a8a" stroke="#1c1c1c" stroke-width="0.5"/>
<ellipse cx="444.8" cy="378.8" rx="3.6" ry="1.6" transform="rotate(0 444.8 378.8)" fill="#5c5c5c" stroke="#1c1c1c" stroke-width="0.7"/>
<path d="M442.0,379.2 L447.6,379.2 L447.4,383.0 L442.2,383.0 Z" fill="#3f3f3f" stroke="#1c1c1c" stroke-width="0.7" stroke-linejoin="round" />
<line x1="444.2" y1="379.4" x2="444.2" y2="382.8" stroke="#1c1c1c" stroke-width="0.5" stroke-linecap="round"/>
<path d="M487.9,370.5 L490.9,370.5 L490.9,375.0 L487.9,375.0 Z" fill="#606060" stroke="#1c1c1c" stroke-width="0.7" stroke-linejoin="round" />
<ellipse cx="489.4" cy="370.5" rx="1.5" ry="0.7" transform="rotate(0 489.4 370.5)" fill="#8a8a8a" stroke="#1c1c1c" stroke-width="0.5"/>
<ellipse cx="489.4" cy="375.4" rx="3.6" ry="1.6" transform="rotate(0 489.4 375.4)" fill="#5c5c5c" stroke="#1c1c1c" stroke-width="0.7"/>
<path d="M486.6,375.8 L492.2,375.8 L492.0,379.6 L486.8,379.6 Z" fill="#3f3f3f" stroke="#1c1c1c" stroke-width="0.7" stroke-linejoin="round" />
<line x1="488.8" y1="376.0" x2="488.8" y2="379.4" stroke="#1c1c1c" stroke-width="0.5" stroke-linecap="round"/>
<path d="M523.7,364.9 L526.7,364.9 L526.7,369.4 L523.7,369.4 Z" fill="#606060" stroke="#1c1c1c" stroke-width="0.7" stroke-linejoin="round" />
<ellipse cx="525.2" cy="364.9" rx="1.5" ry="0.7" transform="rotate(0 525.2 364.9)" fill="#8a8a8a" stroke="#1c1c1c" stroke-width="0.5"/>
<ellipse cx="525.2" cy="369.8" rx="3.6" ry="1.6" transform="rotate(0 525.2 369.8)" fill="#5c5c5c" stroke="#1c1c1c" stroke-width="0.7"/>
<path d="M522.4,370.2 L528.0,370.2 L527.8,374.0 L522.6,374.0 Z" fill="#3f3f3f" stroke="#1c1c1c" stroke-width="0.7" stroke-linejoin="round" />
<line x1="524.6" y1="370.4" x2="524.6" y2="373.8" stroke="#1c1c1c" stroke-width="0.5" stroke-linecap="round"/>
<path d="M326.0,358.6 L342.0,361.6 L341.6,365.6 L325.4,362.0 Z" fill="#5a5a5a" stroke="#1c1c1c" stroke-width="0.7" stroke-linejoin="round" />
<line x1="327.5" y1="358.9" x2="327.1" y2="362.3" stroke="#1c1c1c" stroke-width="0.5" stroke-linecap="round"/>
<line x1="330.1" y1="359.4" x2="329.7" y2="362.9" stroke="#1c1c1c" stroke-width="0.5" stroke-linecap="round"/>
<line x1="332.7" y1="359.9" x2="332.3" y2="363.4" stroke="#1c1c1c" stroke-width="0.5" stroke-linecap="round"/>
<line x1="335.3" y1="360.4" x2="334.9" y2="363.9" stroke="#1c1c1c" stroke-width="0.5" stroke-linecap="round"/>
<line x1="337.9" y1="360.9" x2="337.5" y2="364.5" stroke="#1c1c1c" stroke-width="0.5" stroke-linecap="round"/>
<ellipse cx="325.7" cy="360.3" rx="0.9" ry="1.7" transform="rotate(10 325.7 360.3)" fill="#8a8a8a" stroke="#1c1c1c" stroke-width="0.5"/>
<ellipse cx="342.4" cy="363.6" rx="1.5" ry="3.4" transform="rotate(10 342.4 363.6)" fill="#5a5a5a" stroke="#1c1c1c" stroke-width="0.7"/>
<path d="M343.0,360.8 L347.6,361.6 L347.2,367.2 L342.4,366.4 Z" fill="#444" stroke="#1c1c1c" stroke-width="0.7" stroke-linejoin="round" />
<ellipse cx="347.5" cy="364.4" rx="1.1" ry="2.8" transform="rotate(10 347.5 364.4)" fill="#6a6a6a" stroke="#1c1c1c" stroke-width="0.6"/>
<ellipse cx="313.0" cy="355.6" rx="1.6" ry="2.4" transform="rotate(0 313.0 355.6)" fill="#6a6a6a" stroke="#1c1c1c" stroke-width="0.7"/>
<ellipse cx="316.6" cy="357.8" rx="1.4" ry="1.8" transform="rotate(0 316.6 357.8)" fill="#555" stroke="#1c1c1c" stroke-width="0.6"/>
<path d="M295.0,346.6 L298.2,345.6 L299.6,361.6 L301.6,362.4 L305.6,347.2 L309.2,346.4 L306.4,364.6 Q303.8,368.8 299.6,368.0 Q295.6,366.4 295.4,362.0 Z" fill="#454545" stroke="#1c1c1c" stroke-width="0.8" stroke-linejoin="round" stroke-linecap="round" />
<path d="M298.2,345.6 L299.8,346.4 L300.8,361.0 L299.6,361.6 Z" fill="#8a8a8a" stroke="#1c1c1c" stroke-width="0.5" stroke-linejoin="round" stroke-linecap="round" />
<path d="M297.0,362.0 Q299,365.2 303.6,364.6 L305.0,366.0 Q300,368.0 296.4,364.4 Z" fill="#8a8a8a" stroke="#1c1c1c" stroke-width="0.4" stroke-linejoin="round" stroke-linecap="round" />
<path d="M286.0,352.6 L289.4,352.2 L289.8,357.0 L286.4,357.6 Z" fill="#4a4a4a" stroke="#1c1c1c" stroke-width="0.7" stroke-linejoin="round" />
<path d="M286.0,352.6 L287.4,352.4 L287.7,357.4 L286.4,357.6 Z" fill="#8a8a8a" stroke="#1c1c1c" stroke-width="0.4" stroke-linejoin="round" />
<path d="M108.4,347.2 L111.8,346.8 L112.2,351.6 L108.8,352.2 Z" fill="#4a4a4a" stroke="#1c1c1c" stroke-width="0.7" stroke-linejoin="round" />
<path d="M108.4,347.2 L109.8,347.0 L110.1,352.0 L108.8,352.2 Z" fill="#8a8a8a" stroke="#1c1c1c" stroke-width="0.4" stroke-linejoin="round" />
<line x1="268.6" y1="12.0" x2="320.4" y2="19.2" stroke="#1c1c1c" stroke-width="0.75" stroke-linecap="round"/>
<line x1="290.2" y1="45.6" x2="315.6" y2="50.4" stroke="#1c1c1c" stroke-width="0.75" stroke-linecap="round"/>
<line x1="150.4" y1="60.8" x2="167.4" y2="44.6" stroke="#1c1c1c" stroke-width="0.75" stroke-linecap="round"/>
<line x1="9.4" y1="217.0" x2="12.8" y2="248.4" stroke="#1c1c1c" stroke-width="0.75" stroke-linecap="round"/>
<line x1="35.0" y1="227.8" x2="37.4" y2="251.6" stroke="#1c1c1c" stroke-width="0.75" stroke-linecap="round"/>
<line x1="90.0" y1="115.6" x2="92.6" y2="139.2" stroke="#1c1c1c" stroke-width="0.75" stroke-linecap="round"/>
<line x1="60.6" y1="254.6" x2="71.2" y2="270.6" stroke="#1c1c1c" stroke-width="0.75" stroke-linecap="round"/>
<line x1="230.4" y1="193.4" x2="249.4" y2="214.4" stroke="#1c1c1c" stroke-width="0.75" stroke-linecap="round"/>
<line x1="295.4" y1="190.8" x2="303.8" y2="212.0" stroke="#1c1c1c" stroke-width="0.75" stroke-linecap="round"/>
<line x1="513.2" y1="299.1" x2="555.3" y2="294.7" stroke="#1c1c1c" stroke-width="0.75" stroke-linecap="round"/>
<line x1="528.0" y1="373.5" x2="555.3" y2="379.0" stroke="#1c1c1c" stroke-width="0.75" stroke-linecap="round"/>
<line x1="347.8" y1="366.8" x2="370.4" y2="378.8" stroke="#1c1c1c" stroke-width="0.75" stroke-linecap="round"/>
<line x1="302.2" y1="316.0" x2="300.0" y2="346.6" stroke="#1c1c1c" stroke-width="0.75" stroke-linecap="round"/>
<line x1="280.4" y1="330.2" x2="286.6" y2="352.2" stroke="#1c1c1c" stroke-width="0.75" stroke-linecap="round"/>
<line x1="237.2" y1="324.6" x2="225.2" y2="341.0" stroke="#1c1c1c" stroke-width="0.75" stroke-linecap="round"/>
<line x1="205.2" y1="322.4" x2="186.6" y2="348.8" stroke="#1c1c1c" stroke-width="0.75" stroke-linecap="round"/>
<line x1="129.4" y1="332.6" x2="111.6" y2="346.8" stroke="#1c1c1c" stroke-width="0.75" stroke-linecap="round"/>
<text x="324.4" y="25.0" text-anchor="middle">1</text>
<text x="320.8" y="56.0" text-anchor="middle">2</text>
<text x="146.0" y="71.0" text-anchor="middle">3</text>
<text x="6.0" y="216.6" text-anchor="middle">4</text>
<text x="32.8" y="227.4" text-anchor="middle">5</text>
<text x="87.4" y="114.0" text-anchor="middle">6</text>
<text x="69.4" y="282.6" text-anchor="middle">7</text>
<text x="253.4" y="223.2" text-anchor="middle">8</text>
<text x="305.0" y="223.0" text-anchor="middle">9</text>
<text x="563.8" y="300.4" text-anchor="middle">10</text>
<text x="562.4" y="384.8" text-anchor="middle">11</text>
<text x="377.0" y="385.2" text-anchor="middle">12</text>
<text x="305.4" y="316.0" text-anchor="middle">13</text>
<text x="283.6" y="329.6" text-anchor="middle">14</text>
<text x="240.6" y="323.0" text-anchor="middle">15</text>
<text x="208.6" y="321.4" text-anchor="middle">16</text>
<text x="137.0" y="338.0" text-anchor="middle">17</text>
<rect x="0" y="404.9" width="700" height="1.6" fill="#fdfdfd"/>
<rect x="0" y="406.4" width="700" height="1.6" fill="#2e2e2e"/>
</svg>
</body></html>
